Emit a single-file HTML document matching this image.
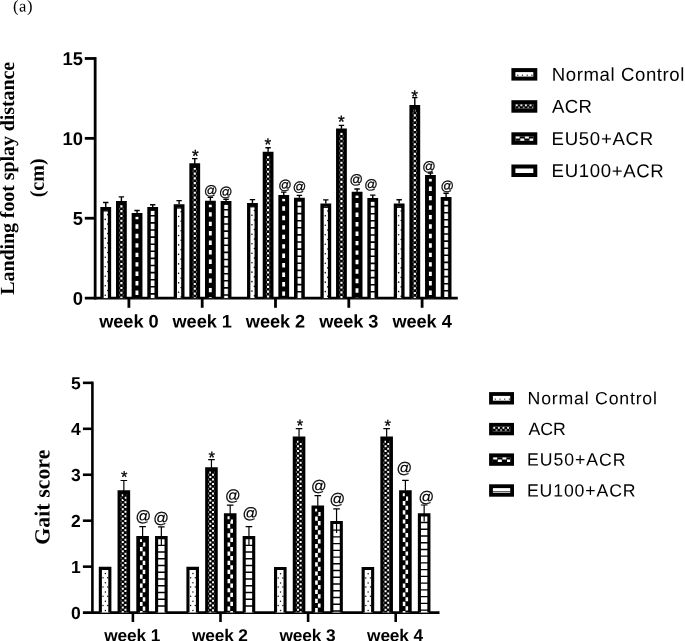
<!DOCTYPE html>
<html lang="en"><head><meta charset="utf-8"><title>Figure (a)</title>
<style>html,body{margin:0;padding:0;background:#fff}body{width:685px;height:641px;overflow:hidden}svg{display:block}</style>
</head><body>
<svg width="685" height="641" viewBox="0 0 685 641">
<rect width="685" height="641" fill="#fff"/>
<text x="13" y="11.4" font-family='"Liberation Serif", "Times New Roman", Times, serif' font-size="16.6" textLength="19.6" lengthAdjust="spacing" transform="rotate(0.03 13 11.4)">(a)</text>
<g stroke="#000" stroke-width="2.8" fill="none" stroke-linecap="butt">
<path d="M95.15 57.08V299.5"/>
<path d="M84.8 298.1H457.8"/>
<path d="M84.8 218.23H95.15"/>
<path d="M84.8 138.35H95.15"/>
<path d="M84.8 58.48H95.15"/>
<path d="M128.9 298.1V307.8"/>
<path d="M202.2 298.1V307.8"/>
<path d="M275.5 298.1V307.8"/>
<path d="M348.8 298.1V307.8"/>
<path d="M422.1 298.1V307.8"/>
</g>
<text x="82.9" y="304.7" font-family='"Liberation Sans", Arial, Helvetica, sans-serif' font-size="18.4" font-weight="bold" text-anchor="end" transform="rotate(0.03 82.9 304.7)">0</text>
<text x="82.9" y="224.83" font-family='"Liberation Sans", Arial, Helvetica, sans-serif' font-size="18.4" font-weight="bold" text-anchor="end" transform="rotate(0.03 82.9 224.83)">5</text>
<text x="82.9" y="144.95" font-family='"Liberation Sans", Arial, Helvetica, sans-serif' font-size="18.4" font-weight="bold" text-anchor="end" transform="rotate(0.03 82.9 144.95)">10</text>
<text x="82.9" y="65.08" font-family='"Liberation Sans", Arial, Helvetica, sans-serif' font-size="18.4" font-weight="bold" text-anchor="end" transform="rotate(0.03 82.9 65.08)">15</text>
<text x="128.9" y="327.5" font-family='"Liberation Sans", Arial, Helvetica, sans-serif' font-size="18.2" font-weight="bold" text-anchor="middle" textLength="59.3" lengthAdjust="spacing" transform="rotate(0.03 128.9 327.5)">week 0</text>
<text x="202.2" y="327.5" font-family='"Liberation Sans", Arial, Helvetica, sans-serif' font-size="18.2" font-weight="bold" text-anchor="middle" textLength="59.3" lengthAdjust="spacing" transform="rotate(0.03 202.2 327.5)">week 1</text>
<text x="275.5" y="327.5" font-family='"Liberation Sans", Arial, Helvetica, sans-serif' font-size="18.2" font-weight="bold" text-anchor="middle" textLength="59.3" lengthAdjust="spacing" transform="rotate(0.03 275.5 327.5)">week 2</text>
<text x="348.8" y="327.5" font-family='"Liberation Sans", Arial, Helvetica, sans-serif' font-size="18.2" font-weight="bold" text-anchor="middle" textLength="59.3" lengthAdjust="spacing" transform="rotate(0.03 348.8 327.5)">week 3</text>
<text x="422.1" y="327.5" font-family='"Liberation Sans", Arial, Helvetica, sans-serif' font-size="18.2" font-weight="bold" text-anchor="middle" textLength="59.3" lengthAdjust="spacing" transform="rotate(0.03 422.1 327.5)">week 4</text>
<g transform="translate(14.0 178.3) rotate(-90)"><text x="0" y="0" font-family='"Liberation Serif", "Times New Roman", Times, serif' font-size="20" font-weight="bold" text-anchor="middle" textLength="233" lengthAdjust="spacing" transform="rotate(0.03 0 0)">Landing foot splay distance</text></g>
<g transform="translate(43.7 177.9) rotate(-90)"><text x="0" y="0" font-family='"Liberation Serif", "Times New Roman", Times, serif' font-size="20" font-weight="bold" text-anchor="middle" transform="rotate(0.03 0 0)">(cm)</text></g>
<g transform="translate(100.35 298.1)"><rect x="1.65" y="-89.35" width="7.5" height="89.35" fill="#fff"/><g fill="#111"><circle cx="4.9" cy="-78.72" r="0.8"/><circle cx="4.9" cy="-69.24" r="0.8"/><circle cx="4.9" cy="-59.76" r="0.8"/><circle cx="4.9" cy="-50.28" r="0.8"/><circle cx="4.9" cy="-40.8" r="0.8"/><circle cx="4.9" cy="-31.32" r="0.8"/><circle cx="4.9" cy="-21.84" r="0.8"/><circle cx="4.9" cy="-12.36" r="0.8"/><circle cx="4.9" cy="-2.88" r="0.8"/><circle cx="7.4" cy="-83.46" r="0.8"/><circle cx="7.4" cy="-73.98" r="0.8"/><circle cx="7.4" cy="-64.5" r="0.8"/><circle cx="7.4" cy="-55.02" r="0.8"/><circle cx="7.4" cy="-45.54" r="0.8"/><circle cx="7.4" cy="-36.06" r="0.8"/><circle cx="7.4" cy="-26.58" r="0.8"/><circle cx="7.4" cy="-17.1" r="0.8"/><circle cx="7.4" cy="-7.62" r="0.8"/></g><path d="M1.65 0V-89.35H9.15V0" fill="none" stroke="#000" stroke-width="3.3"/><rect x="1.65" y="-87.9" width="7.5" height="1.3" fill="#000"/><path d="M5.4 -91V-95.6M2.7 -95.6H8.1" stroke="#000" stroke-width="1.4" fill="none"/></g>
<g transform="translate(116 298.1)"><rect x="1.65" y="-95.55" width="7.5" height="95.55" fill="#fff"/><rect x="1.65" y="-95.55" width="7.5" height="95.55" fill="#000"/><path fill="#7a7a7a" d="M1.93 -90.38h2.15v2.15h-2.15zM1.93 -85.58h2.15v2.15h-2.15zM1.93 -80.78h2.15v2.15h-2.15zM1.93 -75.98h2.15v2.15h-2.15zM1.93 -71.18h2.15v2.15h-2.15zM1.93 -66.38h2.15v2.15h-2.15zM1.93 -61.58h2.15v2.15h-2.15zM1.93 -56.78h2.15v2.15h-2.15zM1.93 -51.98h2.15v2.15h-2.15zM1.93 -47.18h2.15v2.15h-2.15zM1.93 -42.38h2.15v2.15h-2.15zM1.93 -37.58h2.15v2.15h-2.15zM1.93 -32.78h2.15v2.15h-2.15zM1.93 -27.98h2.15v2.15h-2.15zM1.93 -23.18h2.15v2.15h-2.15zM1.93 -18.38h2.15v2.15h-2.15zM1.93 -13.58h2.15v2.15h-2.15zM1.93 -8.78h2.15v2.15h-2.15zM1.93 -3.98h2.15v2.15h-2.15zM6.73 -90.38h2.15v2.15h-2.15zM6.73 -85.58h2.15v2.15h-2.15zM6.73 -80.78h2.15v2.15h-2.15zM6.73 -75.98h2.15v2.15h-2.15zM6.73 -71.18h2.15v2.15h-2.15zM6.73 -66.38h2.15v2.15h-2.15zM6.73 -61.58h2.15v2.15h-2.15zM6.73 -56.78h2.15v2.15h-2.15zM6.73 -51.98h2.15v2.15h-2.15zM6.73 -47.18h2.15v2.15h-2.15zM6.73 -42.38h2.15v2.15h-2.15zM6.73 -37.58h2.15v2.15h-2.15zM6.73 -32.78h2.15v2.15h-2.15zM6.73 -27.98h2.15v2.15h-2.15zM6.73 -23.18h2.15v2.15h-2.15zM6.73 -18.38h2.15v2.15h-2.15zM6.73 -13.58h2.15v2.15h-2.15zM6.73 -8.78h2.15v2.15h-2.15zM6.73 -3.98h2.15v2.15h-2.15z"/><path fill="#fff" d="M4.33 -92.78h2.15v2.15h-2.15zM4.33 -87.98h2.15v2.15h-2.15zM4.33 -83.18h2.15v2.15h-2.15zM4.33 -78.38h2.15v2.15h-2.15zM4.33 -73.58h2.15v2.15h-2.15zM4.33 -68.78h2.15v2.15h-2.15zM4.33 -63.98h2.15v2.15h-2.15zM4.33 -59.18h2.15v2.15h-2.15zM4.33 -54.38h2.15v2.15h-2.15zM4.33 -49.58h2.15v2.15h-2.15zM4.33 -44.78h2.15v2.15h-2.15zM4.33 -39.98h2.15v2.15h-2.15zM4.33 -35.18h2.15v2.15h-2.15zM4.33 -30.38h2.15v2.15h-2.15zM4.33 -25.58h2.15v2.15h-2.15zM4.33 -20.78h2.15v2.15h-2.15zM4.33 -15.98h2.15v2.15h-2.15zM4.33 -11.18h2.15v2.15h-2.15zM4.33 -6.38h2.15v2.15h-2.15zM4.33 -1.58h2.15v1.58h-2.15z"/><path d="M5.4 -97.2V-93.2" stroke="#000" stroke-width="1.4" fill="none"/><path d="M1.65 0V-95.55H9.15V0" fill="none" stroke="#000" stroke-width="3.3"/><rect x="1.65" y="-94.1" width="7.5" height="0.8" fill="#000"/><path d="M5.4 -97.2V-101.2M2.7 -101.2H8.1" stroke="#000" stroke-width="1.4" fill="none"/></g>
<g transform="translate(131.65 298.1)"><rect x="1.65" y="-83.55" width="7.5" height="83.55" fill="#fff"/><rect x="1.65" y="-83.55" width="7.5" height="83.55" fill="#000"/><path fill="#fff" d="M3.85 -83.26h2.9v4.4h-2.9zM3.85 -73.8h2.9v4.4h-2.9zM3.85 -64.34h2.9v4.4h-2.9zM3.85 -54.88h2.9v4.4h-2.9zM3.85 -45.42h2.9v4.4h-2.9zM3.85 -35.96h2.9v4.4h-2.9zM3.85 -26.5h2.9v4.4h-2.9zM3.85 -17.04h2.9v4.4h-2.9zM3.85 -7.58h2.9v4.4h-2.9z"/><path d="M5.4 -85.2V-82.8" stroke="#000" stroke-width="1.4" fill="none"/><path d="M1.65 0V-83.55H9.15V0" fill="none" stroke="#000" stroke-width="3.3"/><rect x="1.65" y="-82.1" width="7.5" height="0.8" fill="#000"/><path d="M5.4 -85.2V-87.6M2.7 -87.6H8.1" stroke="#000" stroke-width="1.4" fill="none"/></g>
<g transform="translate(147.3 298.1)"><rect x="1.65" y="-89.35" width="7.5" height="89.35" fill="#fff"/><path fill="#000" d="M1.65 -83.1h7.5v1.6h-7.5zM1.65 -76h7.5v1.6h-7.5zM1.65 -68.9h7.5v1.6h-7.5zM1.65 -61.8h7.5v1.6h-7.5zM1.65 -54.7h7.5v1.6h-7.5zM1.65 -47.6h7.5v1.6h-7.5zM1.65 -40.5h7.5v1.6h-7.5zM1.65 -33.4h7.5v1.6h-7.5zM1.65 -26.3h7.5v1.6h-7.5zM1.65 -19.2h7.5v1.6h-7.5zM1.65 -12.1h7.5v1.6h-7.5zM1.65 -5h7.5v1.6h-7.5z"/><path fill="#000" d="M3.2 -89.35h0.4V0h-0.4zM7.2 -89.35h0.4V0h-0.4z"/><path d="M5.4 -91V-88.6" stroke="#000" stroke-width="1.4" fill="none"/><path d="M1.65 0V-89.35H9.15V0" fill="none" stroke="#000" stroke-width="3.3"/><rect x="1.65" y="-87.9" width="7.5" height="0.8" fill="#000"/><path d="M5.4 -91V-93.4M2.7 -93.4H8.1" stroke="#000" stroke-width="1.4" fill="none"/></g>
<g transform="translate(173.7 298.1)"><rect x="1.65" y="-92.25" width="7.5" height="92.25" fill="#fff"/><g fill="#111"><circle cx="4.9" cy="-81.62" r="0.8"/><circle cx="4.9" cy="-72.14" r="0.8"/><circle cx="4.9" cy="-62.66" r="0.8"/><circle cx="4.9" cy="-53.18" r="0.8"/><circle cx="4.9" cy="-43.7" r="0.8"/><circle cx="4.9" cy="-34.22" r="0.8"/><circle cx="4.9" cy="-24.74" r="0.8"/><circle cx="4.9" cy="-15.26" r="0.8"/><circle cx="4.9" cy="-5.78" r="0.8"/><circle cx="7.4" cy="-86.36" r="0.8"/><circle cx="7.4" cy="-76.88" r="0.8"/><circle cx="7.4" cy="-67.4" r="0.8"/><circle cx="7.4" cy="-57.92" r="0.8"/><circle cx="7.4" cy="-48.44" r="0.8"/><circle cx="7.4" cy="-38.96" r="0.8"/><circle cx="7.4" cy="-29.48" r="0.8"/><circle cx="7.4" cy="-20" r="0.8"/><circle cx="7.4" cy="-10.52" r="0.8"/><circle cx="7.4" cy="-1.04" r="0.8"/></g><path d="M1.65 0V-92.25H9.15V0" fill="none" stroke="#000" stroke-width="3.3"/><rect x="1.65" y="-90.8" width="7.5" height="1.3" fill="#000"/><path d="M5.4 -93.9V-97.5M2.7 -97.5H8.1" stroke="#000" stroke-width="1.4" fill="none"/></g>
<g transform="translate(189.35 298.1)"><rect x="1.65" y="-133.15" width="7.5" height="133.15" fill="#fff"/><rect x="1.65" y="-133.15" width="7.5" height="133.15" fill="#000"/><path fill="#7a7a7a" d="M1.93 -127.98h2.15v2.15h-2.15zM1.93 -123.18h2.15v2.15h-2.15zM1.93 -118.38h2.15v2.15h-2.15zM1.93 -113.58h2.15v2.15h-2.15zM1.93 -108.78h2.15v2.15h-2.15zM1.93 -103.98h2.15v2.15h-2.15zM1.93 -99.18h2.15v2.15h-2.15zM1.93 -94.38h2.15v2.15h-2.15zM1.93 -89.58h2.15v2.15h-2.15zM1.93 -84.78h2.15v2.15h-2.15zM1.93 -79.98h2.15v2.15h-2.15zM1.93 -75.18h2.15v2.15h-2.15zM1.93 -70.38h2.15v2.15h-2.15zM1.93 -65.58h2.15v2.15h-2.15zM1.93 -60.78h2.15v2.15h-2.15zM1.93 -55.98h2.15v2.15h-2.15zM1.93 -51.18h2.15v2.15h-2.15zM1.93 -46.38h2.15v2.15h-2.15zM1.93 -41.58h2.15v2.15h-2.15zM1.93 -36.78h2.15v2.15h-2.15zM1.93 -31.98h2.15v2.15h-2.15zM1.93 -27.18h2.15v2.15h-2.15zM1.93 -22.38h2.15v2.15h-2.15zM1.93 -17.58h2.15v2.15h-2.15zM1.93 -12.78h2.15v2.15h-2.15zM1.93 -7.98h2.15v2.15h-2.15zM1.93 -3.18h2.15v2.15h-2.15zM6.73 -127.98h2.15v2.15h-2.15zM6.73 -123.18h2.15v2.15h-2.15zM6.73 -118.38h2.15v2.15h-2.15zM6.73 -113.58h2.15v2.15h-2.15zM6.73 -108.78h2.15v2.15h-2.15zM6.73 -103.98h2.15v2.15h-2.15zM6.73 -99.18h2.15v2.15h-2.15zM6.73 -94.38h2.15v2.15h-2.15zM6.73 -89.58h2.15v2.15h-2.15zM6.73 -84.78h2.15v2.15h-2.15zM6.73 -79.98h2.15v2.15h-2.15zM6.73 -75.18h2.15v2.15h-2.15zM6.73 -70.38h2.15v2.15h-2.15zM6.73 -65.58h2.15v2.15h-2.15zM6.73 -60.78h2.15v2.15h-2.15zM6.73 -55.98h2.15v2.15h-2.15zM6.73 -51.18h2.15v2.15h-2.15zM6.73 -46.38h2.15v2.15h-2.15zM6.73 -41.58h2.15v2.15h-2.15zM6.73 -36.78h2.15v2.15h-2.15zM6.73 -31.98h2.15v2.15h-2.15zM6.73 -27.18h2.15v2.15h-2.15zM6.73 -22.38h2.15v2.15h-2.15zM6.73 -17.58h2.15v2.15h-2.15zM6.73 -12.78h2.15v2.15h-2.15zM6.73 -7.98h2.15v2.15h-2.15zM6.73 -3.18h2.15v2.15h-2.15z"/><path fill="#fff" d="M4.33 -130.38h2.15v2.15h-2.15zM4.33 -125.58h2.15v2.15h-2.15zM4.33 -120.78h2.15v2.15h-2.15zM4.33 -115.98h2.15v2.15h-2.15zM4.33 -111.18h2.15v2.15h-2.15zM4.33 -106.38h2.15v2.15h-2.15zM4.33 -101.58h2.15v2.15h-2.15zM4.33 -96.78h2.15v2.15h-2.15zM4.33 -91.98h2.15v2.15h-2.15zM4.33 -87.18h2.15v2.15h-2.15zM4.33 -82.38h2.15v2.15h-2.15zM4.33 -77.58h2.15v2.15h-2.15zM4.33 -72.78h2.15v2.15h-2.15zM4.33 -67.98h2.15v2.15h-2.15zM4.33 -63.18h2.15v2.15h-2.15zM4.33 -58.38h2.15v2.15h-2.15zM4.33 -53.58h2.15v2.15h-2.15zM4.33 -48.78h2.15v2.15h-2.15zM4.33 -43.98h2.15v2.15h-2.15zM4.33 -39.18h2.15v2.15h-2.15zM4.33 -34.38h2.15v2.15h-2.15zM4.33 -29.58h2.15v2.15h-2.15zM4.33 -24.78h2.15v2.15h-2.15zM4.33 -19.98h2.15v2.15h-2.15zM4.33 -15.18h2.15v2.15h-2.15zM4.33 -10.38h2.15v2.15h-2.15zM4.33 -5.58h2.15v2.15h-2.15zM4.33 -0.78h2.15v0.78h-2.15z"/><path d="M5.4 -134.8V-130.1" stroke="#000" stroke-width="1.4" fill="none"/><path d="M1.65 0V-133.15H9.15V0" fill="none" stroke="#000" stroke-width="3.3"/><rect x="1.65" y="-131.7" width="7.5" height="0.8" fill="#000"/><path d="M5.4 -134.8V-139.5M2.7 -139.5H8.1" stroke="#000" stroke-width="1.4" fill="none"/></g>
<g transform="translate(205 298.1)"><rect x="1.65" y="-95.65" width="7.5" height="95.65" fill="#fff"/><rect x="1.65" y="-95.65" width="7.5" height="95.65" fill="#000"/><path fill="#fff" d="M3.85 -95.36h2.9v4.4h-2.9zM3.85 -85.9h2.9v4.4h-2.9zM3.85 -76.44h2.9v4.4h-2.9zM3.85 -66.98h2.9v4.4h-2.9zM3.85 -57.52h2.9v4.4h-2.9zM3.85 -48.06h2.9v4.4h-2.9zM3.85 -38.6h2.9v4.4h-2.9zM3.85 -29.14h2.9v4.4h-2.9zM3.85 -19.68h2.9v4.4h-2.9zM3.85 -10.22h2.9v4.4h-2.9zM3.85 -0.76h2.9v0.76h-2.9z"/><path d="M5.4 -97.3V-93.9" stroke="#000" stroke-width="1.4" fill="none"/><path d="M1.65 0V-95.65H9.15V0" fill="none" stroke="#000" stroke-width="3.3"/><rect x="1.65" y="-94.2" width="7.5" height="0.8" fill="#000"/><path d="M5.4 -97.3V-100.7M2.7 -100.7H8.1" stroke="#000" stroke-width="1.4" fill="none"/></g>
<g transform="translate(220.65 298.1)"><rect x="1.65" y="-95.35" width="7.5" height="95.35" fill="#fff"/><path fill="#000" d="M1.65 -89.1h7.5v1.6h-7.5zM1.65 -82h7.5v1.6h-7.5zM1.65 -74.9h7.5v1.6h-7.5zM1.65 -67.8h7.5v1.6h-7.5zM1.65 -60.7h7.5v1.6h-7.5zM1.65 -53.6h7.5v1.6h-7.5zM1.65 -46.5h7.5v1.6h-7.5zM1.65 -39.4h7.5v1.6h-7.5zM1.65 -32.3h7.5v1.6h-7.5zM1.65 -25.2h7.5v1.6h-7.5zM1.65 -18.1h7.5v1.6h-7.5zM1.65 -11h7.5v1.6h-7.5zM1.65 -3.9h7.5v1.6h-7.5z"/><path fill="#000" d="M3.2 -95.35h0.4V0h-0.4zM7.2 -95.35h0.4V0h-0.4z"/><path d="M5.4 -97V-95.1" stroke="#000" stroke-width="1.4" fill="none"/><path d="M1.65 0V-95.35H9.15V0" fill="none" stroke="#000" stroke-width="3.3"/><rect x="1.65" y="-93.9" width="7.5" height="0.8" fill="#000"/><path d="M5.4 -97V-98.9M2.7 -98.9H8.1" stroke="#000" stroke-width="1.4" fill="none"/></g>
<g transform="translate(247.05 298.1)"><rect x="1.65" y="-93.45" width="7.5" height="93.45" fill="#fff"/><g fill="#111"><circle cx="4.9" cy="-82.82" r="0.8"/><circle cx="4.9" cy="-73.34" r="0.8"/><circle cx="4.9" cy="-63.86" r="0.8"/><circle cx="4.9" cy="-54.38" r="0.8"/><circle cx="4.9" cy="-44.9" r="0.8"/><circle cx="4.9" cy="-35.42" r="0.8"/><circle cx="4.9" cy="-25.94" r="0.8"/><circle cx="4.9" cy="-16.46" r="0.8"/><circle cx="4.9" cy="-6.98" r="0.8"/><circle cx="7.4" cy="-87.56" r="0.8"/><circle cx="7.4" cy="-78.08" r="0.8"/><circle cx="7.4" cy="-68.6" r="0.8"/><circle cx="7.4" cy="-59.12" r="0.8"/><circle cx="7.4" cy="-49.64" r="0.8"/><circle cx="7.4" cy="-40.16" r="0.8"/><circle cx="7.4" cy="-30.68" r="0.8"/><circle cx="7.4" cy="-21.2" r="0.8"/><circle cx="7.4" cy="-11.72" r="0.8"/><circle cx="7.4" cy="-2.24" r="0.8"/></g><path d="M1.65 0V-93.45H9.15V0" fill="none" stroke="#000" stroke-width="3.3"/><rect x="1.65" y="-92" width="7.5" height="1.3" fill="#000"/><path d="M5.4 -95.1V-98.5M2.7 -98.5H8.1" stroke="#000" stroke-width="1.4" fill="none"/></g>
<g transform="translate(262.7 298.1)"><rect x="1.65" y="-144.65" width="7.5" height="144.65" fill="#fff"/><rect x="1.65" y="-144.65" width="7.5" height="144.65" fill="#000"/><path fill="#7a7a7a" d="M1.93 -139.47h2.15v2.15h-2.15zM1.93 -134.67h2.15v2.15h-2.15zM1.93 -129.87h2.15v2.15h-2.15zM1.93 -125.07h2.15v2.15h-2.15zM1.93 -120.27h2.15v2.15h-2.15zM1.93 -115.47h2.15v2.15h-2.15zM1.93 -110.67h2.15v2.15h-2.15zM1.93 -105.88h2.15v2.15h-2.15zM1.93 -101.08h2.15v2.15h-2.15zM1.93 -96.28h2.15v2.15h-2.15zM1.93 -91.48h2.15v2.15h-2.15zM1.93 -86.68h2.15v2.15h-2.15zM1.93 -81.88h2.15v2.15h-2.15zM1.93 -77.08h2.15v2.15h-2.15zM1.93 -72.28h2.15v2.15h-2.15zM1.93 -67.48h2.15v2.15h-2.15zM1.93 -62.68h2.15v2.15h-2.15zM1.93 -57.88h2.15v2.15h-2.15zM1.93 -53.08h2.15v2.15h-2.15zM1.93 -48.28h2.15v2.15h-2.15zM1.93 -43.48h2.15v2.15h-2.15zM1.93 -38.68h2.15v2.15h-2.15zM1.93 -33.88h2.15v2.15h-2.15zM1.93 -29.08h2.15v2.15h-2.15zM1.93 -24.28h2.15v2.15h-2.15zM1.93 -19.48h2.15v2.15h-2.15zM1.93 -14.68h2.15v2.15h-2.15zM1.93 -9.88h2.15v2.15h-2.15zM1.93 -5.08h2.15v2.15h-2.15zM1.93 -0.28h2.15v0.28h-2.15zM6.73 -139.47h2.15v2.15h-2.15zM6.73 -134.67h2.15v2.15h-2.15zM6.73 -129.87h2.15v2.15h-2.15zM6.73 -125.07h2.15v2.15h-2.15zM6.73 -120.27h2.15v2.15h-2.15zM6.73 -115.47h2.15v2.15h-2.15zM6.73 -110.67h2.15v2.15h-2.15zM6.73 -105.88h2.15v2.15h-2.15zM6.73 -101.08h2.15v2.15h-2.15zM6.73 -96.28h2.15v2.15h-2.15zM6.73 -91.48h2.15v2.15h-2.15zM6.73 -86.68h2.15v2.15h-2.15zM6.73 -81.88h2.15v2.15h-2.15zM6.73 -77.08h2.15v2.15h-2.15zM6.73 -72.28h2.15v2.15h-2.15zM6.73 -67.48h2.15v2.15h-2.15zM6.73 -62.68h2.15v2.15h-2.15zM6.73 -57.88h2.15v2.15h-2.15zM6.73 -53.08h2.15v2.15h-2.15zM6.73 -48.28h2.15v2.15h-2.15zM6.73 -43.48h2.15v2.15h-2.15zM6.73 -38.68h2.15v2.15h-2.15zM6.73 -33.88h2.15v2.15h-2.15zM6.73 -29.08h2.15v2.15h-2.15zM6.73 -24.28h2.15v2.15h-2.15zM6.73 -19.48h2.15v2.15h-2.15zM6.73 -14.68h2.15v2.15h-2.15zM6.73 -9.88h2.15v2.15h-2.15zM6.73 -5.08h2.15v2.15h-2.15zM6.73 -0.28h2.15v0.28h-2.15z"/><path fill="#fff" d="M4.33 -141.88h2.15v2.15h-2.15zM4.33 -137.07h2.15v2.15h-2.15zM4.33 -132.27h2.15v2.15h-2.15zM4.33 -127.47h2.15v2.15h-2.15zM4.33 -122.67h2.15v2.15h-2.15zM4.33 -117.88h2.15v2.15h-2.15zM4.33 -113.08h2.15v2.15h-2.15zM4.33 -108.28h2.15v2.15h-2.15zM4.33 -103.48h2.15v2.15h-2.15zM4.33 -98.68h2.15v2.15h-2.15zM4.33 -93.88h2.15v2.15h-2.15zM4.33 -89.08h2.15v2.15h-2.15zM4.33 -84.28h2.15v2.15h-2.15zM4.33 -79.48h2.15v2.15h-2.15zM4.33 -74.68h2.15v2.15h-2.15zM4.33 -69.88h2.15v2.15h-2.15zM4.33 -65.08h2.15v2.15h-2.15zM4.33 -60.28h2.15v2.15h-2.15zM4.33 -55.48h2.15v2.15h-2.15zM4.33 -50.68h2.15v2.15h-2.15zM4.33 -45.88h2.15v2.15h-2.15zM4.33 -41.08h2.15v2.15h-2.15zM4.33 -36.28h2.15v2.15h-2.15zM4.33 -31.48h2.15v2.15h-2.15zM4.33 -26.68h2.15v2.15h-2.15zM4.33 -21.88h2.15v2.15h-2.15zM4.33 -17.08h2.15v2.15h-2.15zM4.33 -12.28h2.15v2.15h-2.15zM4.33 -7.48h2.15v2.15h-2.15zM4.33 -2.68h2.15v2.15h-2.15z"/><path d="M5.4 -146.3V-142.2" stroke="#000" stroke-width="1.4" fill="none"/><path d="M1.65 0V-144.65H9.15V0" fill="none" stroke="#000" stroke-width="3.3"/><rect x="1.65" y="-143.2" width="7.5" height="0.8" fill="#000"/><path d="M5.4 -146.3V-150.4M2.7 -150.4H8.1" stroke="#000" stroke-width="1.4" fill="none"/></g>
<g transform="translate(278.35 298.1)"><rect x="1.65" y="-101.55" width="7.5" height="101.55" fill="#fff"/><rect x="1.65" y="-101.55" width="7.5" height="101.55" fill="#000"/><path fill="#fff" d="M3.85 -101.26h2.9v4.4h-2.9zM3.85 -91.8h2.9v4.4h-2.9zM3.85 -82.34h2.9v4.4h-2.9zM3.85 -72.88h2.9v4.4h-2.9zM3.85 -63.42h2.9v4.4h-2.9zM3.85 -53.96h2.9v4.4h-2.9zM3.85 -44.5h2.9v4.4h-2.9zM3.85 -35.04h2.9v4.4h-2.9zM3.85 -25.58h2.9v4.4h-2.9zM3.85 -16.12h2.9v4.4h-2.9zM3.85 -6.66h2.9v4.4h-2.9z"/><path d="M5.4 -103.2V-100.4" stroke="#000" stroke-width="1.4" fill="none"/><path d="M1.65 0V-101.55H9.15V0" fill="none" stroke="#000" stroke-width="3.3"/><rect x="1.65" y="-100.1" width="7.5" height="0.8" fill="#000"/><path d="M5.4 -103.2V-106M2.7 -106H8.1" stroke="#000" stroke-width="1.4" fill="none"/></g>
<g transform="translate(294 298.1)"><rect x="1.65" y="-98.65" width="7.5" height="98.65" fill="#fff"/><path fill="#000" d="M1.65 -92.4h7.5v1.6h-7.5zM1.65 -85.3h7.5v1.6h-7.5zM1.65 -78.2h7.5v1.6h-7.5zM1.65 -71.1h7.5v1.6h-7.5zM1.65 -64h7.5v1.6h-7.5zM1.65 -56.9h7.5v1.6h-7.5zM1.65 -49.8h7.5v1.6h-7.5zM1.65 -42.7h7.5v1.6h-7.5zM1.65 -35.6h7.5v1.6h-7.5zM1.65 -28.5h7.5v1.6h-7.5zM1.65 -21.4h7.5v1.6h-7.5zM1.65 -14.3h7.5v1.6h-7.5zM1.65 -7.2h7.5v1.6h-7.5z"/><path fill="#000" d="M3.2 -98.65h0.4V0h-0.4zM7.2 -98.65h0.4V0h-0.4z"/><path d="M5.4 -100.3V-97.9" stroke="#000" stroke-width="1.4" fill="none"/><path d="M1.65 0V-98.65H9.15V0" fill="none" stroke="#000" stroke-width="3.3"/><rect x="1.65" y="-97.2" width="7.5" height="0.8" fill="#000"/><path d="M5.4 -100.3V-102.7M2.7 -102.7H8.1" stroke="#000" stroke-width="1.4" fill="none"/></g>
<g transform="translate(320.4 298.1)"><rect x="1.65" y="-92.95" width="7.5" height="92.95" fill="#fff"/><g fill="#111"><circle cx="4.9" cy="-82.32" r="0.8"/><circle cx="4.9" cy="-72.84" r="0.8"/><circle cx="4.9" cy="-63.36" r="0.8"/><circle cx="4.9" cy="-53.88" r="0.8"/><circle cx="4.9" cy="-44.4" r="0.8"/><circle cx="4.9" cy="-34.92" r="0.8"/><circle cx="4.9" cy="-25.44" r="0.8"/><circle cx="4.9" cy="-15.96" r="0.8"/><circle cx="4.9" cy="-6.48" r="0.8"/><circle cx="7.4" cy="-87.06" r="0.8"/><circle cx="7.4" cy="-77.58" r="0.8"/><circle cx="7.4" cy="-68.1" r="0.8"/><circle cx="7.4" cy="-58.62" r="0.8"/><circle cx="7.4" cy="-49.14" r="0.8"/><circle cx="7.4" cy="-39.66" r="0.8"/><circle cx="7.4" cy="-30.18" r="0.8"/><circle cx="7.4" cy="-20.7" r="0.8"/><circle cx="7.4" cy="-11.22" r="0.8"/><circle cx="7.4" cy="-1.74" r="0.8"/></g><path d="M1.65 0V-92.95H9.15V0" fill="none" stroke="#000" stroke-width="3.3"/><rect x="1.65" y="-91.5" width="7.5" height="1.3" fill="#000"/><path d="M5.4 -94.6V-98.2M2.7 -98.2H8.1" stroke="#000" stroke-width="1.4" fill="none"/></g>
<g transform="translate(336.05 298.1)"><rect x="1.65" y="-168.05" width="7.5" height="168.05" fill="#fff"/><rect x="1.65" y="-168.05" width="7.5" height="168.05" fill="#000"/><path fill="#7a7a7a" d="M1.93 -162.88h2.15v2.15h-2.15zM1.93 -158.07h2.15v2.15h-2.15zM1.93 -153.27h2.15v2.15h-2.15zM1.93 -148.47h2.15v2.15h-2.15zM1.93 -143.67h2.15v2.15h-2.15zM1.93 -138.87h2.15v2.15h-2.15zM1.93 -134.07h2.15v2.15h-2.15zM1.93 -129.27h2.15v2.15h-2.15zM1.93 -124.47h2.15v2.15h-2.15zM1.93 -119.67h2.15v2.15h-2.15zM1.93 -114.87h2.15v2.15h-2.15zM1.93 -110.07h2.15v2.15h-2.15zM1.93 -105.27h2.15v2.15h-2.15zM1.93 -100.47h2.15v2.15h-2.15zM1.93 -95.67h2.15v2.15h-2.15zM1.93 -90.87h2.15v2.15h-2.15zM1.93 -86.07h2.15v2.15h-2.15zM1.93 -81.27h2.15v2.15h-2.15zM1.93 -76.47h2.15v2.15h-2.15zM1.93 -71.67h2.15v2.15h-2.15zM1.93 -66.87h2.15v2.15h-2.15zM1.93 -62.07h2.15v2.15h-2.15zM1.93 -57.27h2.15v2.15h-2.15zM1.93 -52.47h2.15v2.15h-2.15zM1.93 -47.67h2.15v2.15h-2.15zM1.93 -42.87h2.15v2.15h-2.15zM1.93 -38.07h2.15v2.15h-2.15zM1.93 -33.27h2.15v2.15h-2.15zM1.93 -28.47h2.15v2.15h-2.15zM1.93 -23.67h2.15v2.15h-2.15zM1.93 -18.87h2.15v2.15h-2.15zM1.93 -14.07h2.15v2.15h-2.15zM1.93 -9.27h2.15v2.15h-2.15zM1.93 -4.47h2.15v2.15h-2.15zM6.73 -162.88h2.15v2.15h-2.15zM6.73 -158.07h2.15v2.15h-2.15zM6.73 -153.27h2.15v2.15h-2.15zM6.73 -148.47h2.15v2.15h-2.15zM6.73 -143.67h2.15v2.15h-2.15zM6.73 -138.87h2.15v2.15h-2.15zM6.73 -134.07h2.15v2.15h-2.15zM6.73 -129.27h2.15v2.15h-2.15zM6.73 -124.47h2.15v2.15h-2.15zM6.73 -119.67h2.15v2.15h-2.15zM6.73 -114.87h2.15v2.15h-2.15zM6.73 -110.07h2.15v2.15h-2.15zM6.73 -105.27h2.15v2.15h-2.15zM6.73 -100.47h2.15v2.15h-2.15zM6.73 -95.67h2.15v2.15h-2.15zM6.73 -90.87h2.15v2.15h-2.15zM6.73 -86.07h2.15v2.15h-2.15zM6.73 -81.27h2.15v2.15h-2.15zM6.73 -76.47h2.15v2.15h-2.15zM6.73 -71.67h2.15v2.15h-2.15zM6.73 -66.87h2.15v2.15h-2.15zM6.73 -62.07h2.15v2.15h-2.15zM6.73 -57.27h2.15v2.15h-2.15zM6.73 -52.47h2.15v2.15h-2.15zM6.73 -47.67h2.15v2.15h-2.15zM6.73 -42.87h2.15v2.15h-2.15zM6.73 -38.07h2.15v2.15h-2.15zM6.73 -33.27h2.15v2.15h-2.15zM6.73 -28.47h2.15v2.15h-2.15zM6.73 -23.67h2.15v2.15h-2.15zM6.73 -18.87h2.15v2.15h-2.15zM6.73 -14.07h2.15v2.15h-2.15zM6.73 -9.27h2.15v2.15h-2.15zM6.73 -4.47h2.15v2.15h-2.15z"/><path fill="#fff" d="M4.33 -165.28h2.15v2.15h-2.15zM4.33 -160.47h2.15v2.15h-2.15zM4.33 -155.67h2.15v2.15h-2.15zM4.33 -150.87h2.15v2.15h-2.15zM4.33 -146.07h2.15v2.15h-2.15zM4.33 -141.27h2.15v2.15h-2.15zM4.33 -136.47h2.15v2.15h-2.15zM4.33 -131.67h2.15v2.15h-2.15zM4.33 -126.87h2.15v2.15h-2.15zM4.33 -122.07h2.15v2.15h-2.15zM4.33 -117.27h2.15v2.15h-2.15zM4.33 -112.47h2.15v2.15h-2.15zM4.33 -107.67h2.15v2.15h-2.15zM4.33 -102.87h2.15v2.15h-2.15zM4.33 -98.07h2.15v2.15h-2.15zM4.33 -93.27h2.15v2.15h-2.15zM4.33 -88.47h2.15v2.15h-2.15zM4.33 -83.67h2.15v2.15h-2.15zM4.33 -78.87h2.15v2.15h-2.15zM4.33 -74.07h2.15v2.15h-2.15zM4.33 -69.27h2.15v2.15h-2.15zM4.33 -64.47h2.15v2.15h-2.15zM4.33 -59.67h2.15v2.15h-2.15zM4.33 -54.87h2.15v2.15h-2.15zM4.33 -50.07h2.15v2.15h-2.15zM4.33 -45.27h2.15v2.15h-2.15zM4.33 -40.47h2.15v2.15h-2.15zM4.33 -35.67h2.15v2.15h-2.15zM4.33 -30.87h2.15v2.15h-2.15zM4.33 -26.07h2.15v2.15h-2.15zM4.33 -21.27h2.15v2.15h-2.15zM4.33 -16.47h2.15v2.15h-2.15zM4.33 -11.67h2.15v2.15h-2.15zM4.33 -6.87h2.15v2.15h-2.15zM4.33 -2.07h2.15v2.07h-2.15z"/><path d="M5.4 -169.7V-166.7" stroke="#000" stroke-width="1.4" fill="none"/><path d="M1.65 0V-168.05H9.15V0" fill="none" stroke="#000" stroke-width="3.3"/><rect x="1.65" y="-166.6" width="7.5" height="0.8" fill="#000"/><path d="M5.4 -169.7V-172.7M2.7 -172.7H8.1" stroke="#000" stroke-width="1.4" fill="none"/></g>
<g transform="translate(351.7 298.1)"><rect x="1.65" y="-104.75" width="7.5" height="104.75" fill="#fff"/><rect x="1.65" y="-104.75" width="7.5" height="104.75" fill="#000"/><path fill="#fff" d="M3.85 -104.46h2.9v4.4h-2.9zM3.85 -95h2.9v4.4h-2.9zM3.85 -85.54h2.9v4.4h-2.9zM3.85 -76.08h2.9v4.4h-2.9zM3.85 -66.62h2.9v4.4h-2.9zM3.85 -57.16h2.9v4.4h-2.9zM3.85 -47.7h2.9v4.4h-2.9zM3.85 -38.24h2.9v4.4h-2.9zM3.85 -28.78h2.9v4.4h-2.9zM3.85 -19.32h2.9v4.4h-2.9zM3.85 -9.86h2.9v4.4h-2.9zM3.85 -0.4h2.9v0.4h-2.9z"/><path d="M5.4 -106.4V-103.7" stroke="#000" stroke-width="1.4" fill="none"/><path d="M1.65 0V-104.75H9.15V0" fill="none" stroke="#000" stroke-width="3.3"/><rect x="1.65" y="-103.3" width="7.5" height="0.8" fill="#000"/><path d="M5.4 -106.4V-109.1M2.7 -109.1H8.1" stroke="#000" stroke-width="1.4" fill="none"/></g>
<g transform="translate(367.35 298.1)"><rect x="1.65" y="-98.55" width="7.5" height="98.55" fill="#fff"/><path fill="#000" d="M1.65 -92.3h7.5v1.6h-7.5zM1.65 -85.2h7.5v1.6h-7.5zM1.65 -78.1h7.5v1.6h-7.5zM1.65 -71h7.5v1.6h-7.5zM1.65 -63.9h7.5v1.6h-7.5zM1.65 -56.8h7.5v1.6h-7.5zM1.65 -49.7h7.5v1.6h-7.5zM1.65 -42.6h7.5v1.6h-7.5zM1.65 -35.5h7.5v1.6h-7.5zM1.65 -28.4h7.5v1.6h-7.5zM1.65 -21.3h7.5v1.6h-7.5zM1.65 -14.2h7.5v1.6h-7.5zM1.65 -7.1h7.5v1.6h-7.5z"/><path fill="#000" d="M3.2 -98.55h0.4V0h-0.4zM7.2 -98.55h0.4V0h-0.4z"/><path d="M5.4 -100.2V-97.4" stroke="#000" stroke-width="1.4" fill="none"/><path d="M1.65 0V-98.55H9.15V0" fill="none" stroke="#000" stroke-width="3.3"/><rect x="1.65" y="-97.1" width="7.5" height="0.8" fill="#000"/><path d="M5.4 -100.2V-103M2.7 -103H8.1" stroke="#000" stroke-width="1.4" fill="none"/></g>
<g transform="translate(393.75 298.1)"><rect x="1.65" y="-92.95" width="7.5" height="92.95" fill="#fff"/><g fill="#111"><circle cx="4.9" cy="-82.32" r="0.8"/><circle cx="4.9" cy="-72.84" r="0.8"/><circle cx="4.9" cy="-63.36" r="0.8"/><circle cx="4.9" cy="-53.88" r="0.8"/><circle cx="4.9" cy="-44.4" r="0.8"/><circle cx="4.9" cy="-34.92" r="0.8"/><circle cx="4.9" cy="-25.44" r="0.8"/><circle cx="4.9" cy="-15.96" r="0.8"/><circle cx="4.9" cy="-6.48" r="0.8"/><circle cx="7.4" cy="-87.06" r="0.8"/><circle cx="7.4" cy="-77.58" r="0.8"/><circle cx="7.4" cy="-68.1" r="0.8"/><circle cx="7.4" cy="-58.62" r="0.8"/><circle cx="7.4" cy="-49.14" r="0.8"/><circle cx="7.4" cy="-39.66" r="0.8"/><circle cx="7.4" cy="-30.18" r="0.8"/><circle cx="7.4" cy="-20.7" r="0.8"/><circle cx="7.4" cy="-11.22" r="0.8"/><circle cx="7.4" cy="-1.74" r="0.8"/></g><path d="M1.65 0V-92.95H9.15V0" fill="none" stroke="#000" stroke-width="3.3"/><rect x="1.65" y="-91.5" width="7.5" height="1.3" fill="#000"/><path d="M5.4 -94.6V-98.4M2.7 -98.4H8.1" stroke="#000" stroke-width="1.4" fill="none"/></g>
<g transform="translate(409.4 298.1)"><rect x="1.65" y="-191.35" width="7.5" height="191.35" fill="#fff"/><rect x="1.65" y="-191.35" width="7.5" height="191.35" fill="#000"/><path fill="#7a7a7a" d="M1.93 -186.18h2.15v2.15h-2.15zM1.93 -181.38h2.15v2.15h-2.15zM1.93 -176.57h2.15v2.15h-2.15zM1.93 -171.77h2.15v2.15h-2.15zM1.93 -166.97h2.15v2.15h-2.15zM1.93 -162.17h2.15v2.15h-2.15zM1.93 -157.37h2.15v2.15h-2.15zM1.93 -152.57h2.15v2.15h-2.15zM1.93 -147.77h2.15v2.15h-2.15zM1.93 -142.97h2.15v2.15h-2.15zM1.93 -138.17h2.15v2.15h-2.15zM1.93 -133.37h2.15v2.15h-2.15zM1.93 -128.57h2.15v2.15h-2.15zM1.93 -123.77h2.15v2.15h-2.15zM1.93 -118.97h2.15v2.15h-2.15zM1.93 -114.17h2.15v2.15h-2.15zM1.93 -109.37h2.15v2.15h-2.15zM1.93 -104.57h2.15v2.15h-2.15zM1.93 -99.77h2.15v2.15h-2.15zM1.93 -94.97h2.15v2.15h-2.15zM1.93 -90.17h2.15v2.15h-2.15zM1.93 -85.37h2.15v2.15h-2.15zM1.93 -80.57h2.15v2.15h-2.15zM1.93 -75.77h2.15v2.15h-2.15zM1.93 -70.97h2.15v2.15h-2.15zM1.93 -66.17h2.15v2.15h-2.15zM1.93 -61.37h2.15v2.15h-2.15zM1.93 -56.57h2.15v2.15h-2.15zM1.93 -51.77h2.15v2.15h-2.15zM1.93 -46.97h2.15v2.15h-2.15zM1.93 -42.17h2.15v2.15h-2.15zM1.93 -37.37h2.15v2.15h-2.15zM1.93 -32.57h2.15v2.15h-2.15zM1.93 -27.77h2.15v2.15h-2.15zM1.93 -22.97h2.15v2.15h-2.15zM1.93 -18.17h2.15v2.15h-2.15zM1.93 -13.37h2.15v2.15h-2.15zM1.93 -8.57h2.15v2.15h-2.15zM1.93 -3.77h2.15v2.15h-2.15zM6.73 -186.18h2.15v2.15h-2.15zM6.73 -181.38h2.15v2.15h-2.15zM6.73 -176.57h2.15v2.15h-2.15zM6.73 -171.77h2.15v2.15h-2.15zM6.73 -166.97h2.15v2.15h-2.15zM6.73 -162.17h2.15v2.15h-2.15zM6.73 -157.37h2.15v2.15h-2.15zM6.73 -152.57h2.15v2.15h-2.15zM6.73 -147.77h2.15v2.15h-2.15zM6.73 -142.97h2.15v2.15h-2.15zM6.73 -138.17h2.15v2.15h-2.15zM6.73 -133.37h2.15v2.15h-2.15zM6.73 -128.57h2.15v2.15h-2.15zM6.73 -123.77h2.15v2.15h-2.15zM6.73 -118.97h2.15v2.15h-2.15zM6.73 -114.17h2.15v2.15h-2.15zM6.73 -109.37h2.15v2.15h-2.15zM6.73 -104.57h2.15v2.15h-2.15zM6.73 -99.77h2.15v2.15h-2.15zM6.73 -94.97h2.15v2.15h-2.15zM6.73 -90.17h2.15v2.15h-2.15zM6.73 -85.37h2.15v2.15h-2.15zM6.73 -80.57h2.15v2.15h-2.15zM6.73 -75.77h2.15v2.15h-2.15zM6.73 -70.97h2.15v2.15h-2.15zM6.73 -66.17h2.15v2.15h-2.15zM6.73 -61.37h2.15v2.15h-2.15zM6.73 -56.57h2.15v2.15h-2.15zM6.73 -51.77h2.15v2.15h-2.15zM6.73 -46.97h2.15v2.15h-2.15zM6.73 -42.17h2.15v2.15h-2.15zM6.73 -37.37h2.15v2.15h-2.15zM6.73 -32.57h2.15v2.15h-2.15zM6.73 -27.77h2.15v2.15h-2.15zM6.73 -22.97h2.15v2.15h-2.15zM6.73 -18.17h2.15v2.15h-2.15zM6.73 -13.37h2.15v2.15h-2.15zM6.73 -8.57h2.15v2.15h-2.15zM6.73 -3.77h2.15v2.15h-2.15z"/><path fill="#fff" d="M4.33 -188.58h2.15v2.15h-2.15zM4.33 -183.78h2.15v2.15h-2.15zM4.33 -178.97h2.15v2.15h-2.15zM4.33 -174.17h2.15v2.15h-2.15zM4.33 -169.37h2.15v2.15h-2.15zM4.33 -164.57h2.15v2.15h-2.15zM4.33 -159.77h2.15v2.15h-2.15zM4.33 -154.97h2.15v2.15h-2.15zM4.33 -150.17h2.15v2.15h-2.15zM4.33 -145.37h2.15v2.15h-2.15zM4.33 -140.57h2.15v2.15h-2.15zM4.33 -135.77h2.15v2.15h-2.15zM4.33 -130.97h2.15v2.15h-2.15zM4.33 -126.17h2.15v2.15h-2.15zM4.33 -121.37h2.15v2.15h-2.15zM4.33 -116.57h2.15v2.15h-2.15zM4.33 -111.77h2.15v2.15h-2.15zM4.33 -106.97h2.15v2.15h-2.15zM4.33 -102.17h2.15v2.15h-2.15zM4.33 -97.37h2.15v2.15h-2.15zM4.33 -92.57h2.15v2.15h-2.15zM4.33 -87.77h2.15v2.15h-2.15zM4.33 -82.97h2.15v2.15h-2.15zM4.33 -78.17h2.15v2.15h-2.15zM4.33 -73.37h2.15v2.15h-2.15zM4.33 -68.57h2.15v2.15h-2.15zM4.33 -63.77h2.15v2.15h-2.15zM4.33 -58.97h2.15v2.15h-2.15zM4.33 -54.17h2.15v2.15h-2.15zM4.33 -49.37h2.15v2.15h-2.15zM4.33 -44.57h2.15v2.15h-2.15zM4.33 -39.77h2.15v2.15h-2.15zM4.33 -34.97h2.15v2.15h-2.15zM4.33 -30.17h2.15v2.15h-2.15zM4.33 -25.37h2.15v2.15h-2.15zM4.33 -20.57h2.15v2.15h-2.15zM4.33 -15.77h2.15v2.15h-2.15zM4.33 -10.97h2.15v2.15h-2.15zM4.33 -6.17h2.15v2.15h-2.15zM4.33 -1.37h2.15v1.37h-2.15z"/><path d="M5.4 -193V-185.5" stroke="#000" stroke-width="1.4" fill="none"/><path d="M1.65 0V-191.35H9.15V0" fill="none" stroke="#000" stroke-width="3.3"/><rect x="1.65" y="-189.9" width="7.5" height="0.8" fill="#000"/><path d="M5.4 -193V-200.5M2.7 -200.5H8.1" stroke="#000" stroke-width="1.4" fill="none"/></g>
<g transform="translate(425.05 298.1)"><rect x="1.65" y="-121.35" width="7.5" height="121.35" fill="#fff"/><rect x="1.65" y="-121.35" width="7.5" height="121.35" fill="#000"/><path fill="#fff" d="M3.85 -121.06h2.9v4.4h-2.9zM3.85 -111.6h2.9v4.4h-2.9zM3.85 -102.14h2.9v4.4h-2.9zM3.85 -92.68h2.9v4.4h-2.9zM3.85 -83.22h2.9v4.4h-2.9zM3.85 -73.76h2.9v4.4h-2.9zM3.85 -64.3h2.9v4.4h-2.9zM3.85 -54.84h2.9v4.4h-2.9zM3.85 -45.38h2.9v4.4h-2.9zM3.85 -35.92h2.9v4.4h-2.9zM3.85 -26.46h2.9v4.4h-2.9zM3.85 -17h2.9v4.4h-2.9zM3.85 -7.54h2.9v4.4h-2.9z"/><path d="M5.4 -123V-120.9" stroke="#000" stroke-width="1.4" fill="none"/><path d="M1.65 0V-121.35H9.15V0" fill="none" stroke="#000" stroke-width="3.3"/><rect x="1.65" y="-119.9" width="7.5" height="0.8" fill="#000"/><path d="M5.4 -123V-125.1M2.7 -125.1H8.1" stroke="#000" stroke-width="1.4" fill="none"/></g>
<g transform="translate(440.7 298.1)"><rect x="1.65" y="-99.55" width="7.5" height="99.55" fill="#fff"/><path fill="#000" d="M1.65 -93.3h7.5v1.6h-7.5zM1.65 -86.2h7.5v1.6h-7.5zM1.65 -79.1h7.5v1.6h-7.5zM1.65 -72h7.5v1.6h-7.5zM1.65 -64.9h7.5v1.6h-7.5zM1.65 -57.8h7.5v1.6h-7.5zM1.65 -50.7h7.5v1.6h-7.5zM1.65 -43.6h7.5v1.6h-7.5zM1.65 -36.5h7.5v1.6h-7.5zM1.65 -29.4h7.5v1.6h-7.5zM1.65 -22.3h7.5v1.6h-7.5zM1.65 -15.2h7.5v1.6h-7.5zM1.65 -8.1h7.5v1.6h-7.5zM1.65 -1h7.5v1.6h-7.5z"/><path fill="#000" d="M3.2 -99.55h0.4V0h-0.4zM7.2 -99.55h0.4V0h-0.4z"/><path d="M5.4 -101.2V-97.6" stroke="#000" stroke-width="1.4" fill="none"/><path d="M1.65 0V-99.55H9.15V0" fill="none" stroke="#000" stroke-width="3.3"/><rect x="1.65" y="-98.1" width="7.5" height="0.8" fill="#000"/><path d="M5.4 -101.2V-104.8M2.7 -104.8H8.1" stroke="#000" stroke-width="1.4" fill="none"/></g>
<text x="195.3" y="161.72" font-family='"Liberation Sans", Arial, Helvetica, sans-serif' font-size="17.2" text-anchor="middle" transform="rotate(0.03 195.3 161.72)" stroke="#000" stroke-width="0.3">*</text>
<text x="267.9" y="150.32" font-family='"Liberation Sans", Arial, Helvetica, sans-serif' font-size="17.2" text-anchor="middle" transform="rotate(0.03 267.9 150.32)" stroke="#000" stroke-width="0.3">*</text>
<text x="341.4" y="127.52" font-family='"Liberation Sans", Arial, Helvetica, sans-serif' font-size="17.2" text-anchor="middle" transform="rotate(0.03 341.4 127.52)" stroke="#000" stroke-width="0.3">*</text>
<text x="414.6" y="102.32" font-family='"Liberation Sans", Arial, Helvetica, sans-serif' font-size="17.2" text-anchor="middle" transform="rotate(0.03 414.6 102.32)" stroke="#000" stroke-width="0.3">*</text>
<text x="210.8" y="194.86" font-family='"Liberation Sans", Arial, Helvetica, sans-serif' font-size="13.3" text-anchor="middle" transform="rotate(0.03 210.8 194.86)" stroke="#000" stroke-width="0.25">@</text>
<text x="225.7" y="196.26" font-family='"Liberation Sans", Arial, Helvetica, sans-serif' font-size="13.3" text-anchor="middle" transform="rotate(0.03 225.7 196.26)" stroke="#000" stroke-width="0.25">@</text>
<text x="284.9" y="189.16" font-family='"Liberation Sans", Arial, Helvetica, sans-serif' font-size="13.3" text-anchor="middle" transform="rotate(0.03 284.9 189.16)" stroke="#000" stroke-width="0.25">@</text>
<text x="299.6" y="190.96" font-family='"Liberation Sans", Arial, Helvetica, sans-serif' font-size="13.3" text-anchor="middle" transform="rotate(0.03 299.6 190.96)" stroke="#000" stroke-width="0.25">@</text>
<text x="356.25" y="183.76" font-family='"Liberation Sans", Arial, Helvetica, sans-serif' font-size="13.3" text-anchor="middle" transform="rotate(0.03 356.25 183.76)" stroke="#000" stroke-width="0.25">@</text>
<text x="371.05" y="188.86" font-family='"Liberation Sans", Arial, Helvetica, sans-serif' font-size="13.3" text-anchor="middle" transform="rotate(0.03 371.05 188.86)" stroke="#000" stroke-width="0.25">@</text>
<text x="428.9" y="170.66" font-family='"Liberation Sans", Arial, Helvetica, sans-serif' font-size="13.3" text-anchor="middle" transform="rotate(0.03 428.9 170.66)" stroke="#000" stroke-width="0.25">@</text>
<text x="447.3" y="190.26" font-family='"Liberation Sans", Arial, Helvetica, sans-serif' font-size="13.3" text-anchor="middle" transform="rotate(0.03 447.3 190.26)" stroke="#000" stroke-width="0.25">@</text>
<g transform="translate(511.4 68.1)"><rect x="2" y="2" width="21.9" height="8.5" fill="#fff"/><g fill="#111"><circle cx="6.4" cy="7.05" r="0.7"/><circle cx="11.1" cy="7.05" r="0.7"/><circle cx="15.8" cy="7.05" r="0.7"/><circle cx="20.5" cy="7.05" r="0.7"/></g><rect x="2" y="2" width="21.9" height="8.5" fill="none" stroke="#000" stroke-width="4"/></g>
<text x="551.8" y="80.7" font-family='"Liberation Sans", Arial, Helvetica, sans-serif' font-size="18.6" textLength="132.6" lengthAdjust="spacing" transform="rotate(0.03 551.8 80.7)">Normal Control</text>
<g transform="translate(511.4 100.2)"><rect x="2" y="2" width="21.9" height="8.5" fill="#fff"/><rect x="4" y="4" width="17.9" height="4.5" fill="#000"/><path fill="#f4f4f4" d="M4.4 4.1h1.9v1.9h-1.9zM9 4.1h1.9v1.9h-1.9zM13.6 4.1h1.9v1.9h-1.9zM18.2 4.1h1.9v1.9h-1.9z"/><path fill="#909090" d="M6.7 6.4h1.9v1.9h-1.9zM11.3 6.4h1.9v1.9h-1.9zM15.9 6.4h1.9v1.9h-1.9zM20.5 6.4h1.9v1.9h-1.9z"/><rect x="2" y="2" width="21.9" height="8.5" fill="none" stroke="#000" stroke-width="4"/></g>
<text x="552" y="112.8" font-family='"Liberation Sans", Arial, Helvetica, sans-serif' font-size="18.6" textLength="40" lengthAdjust="spacing" transform="rotate(0.03 552 112.8)">ACR</text>
<g transform="translate(511.4 132.3)"><rect x="2" y="2" width="21.9" height="8.5" fill="#fff"/><rect x="4" y="4" width="17.9" height="4.5" fill="#000"/><path fill="#fff" d="M4.3 4h4v2.2h-4zM8.9 6.3h4v2.4h-4zM13.5 4h4v2.2h-4zM18.1 6.3h4v2.4h-4z"/><rect x="2" y="2" width="21.9" height="8.5" fill="none" stroke="#000" stroke-width="4"/></g>
<text x="551.6" y="144.9" font-family='"Liberation Sans", Arial, Helvetica, sans-serif' font-size="18.6" textLength="101.5" lengthAdjust="spacing" transform="rotate(0.03 551.6 144.9)">EU50+ACR</text>
<g transform="translate(511.4 164.5)"><rect x="2" y="2" width="21.9" height="8.5" fill="#fff"/><rect x="2" y="2" width="21.9" height="8.5" fill="none" stroke="#000" stroke-width="4"/></g>
<text x="551.6" y="177.1" font-family='"Liberation Sans", Arial, Helvetica, sans-serif' font-size="18.6" textLength="112.2" lengthAdjust="spacing" transform="rotate(0.03 551.6 177.1)">EU100+ACR</text>
<g stroke="#000" stroke-width="2.6" fill="none">
<path d="M92.4 381.55V613.9"/>
<path d="M82.9 612.6H439.5"/>
<path d="M82.9 566.65H92.4"/>
<path d="M82.9 520.7H92.4"/>
<path d="M82.9 474.75H92.4"/>
<path d="M82.9 428.8H92.4"/>
<path d="M82.9 382.85H92.4"/>
<path d="M132.9 612.6V622"/>
<path d="M220.5 612.6V622"/>
<path d="M308.1 612.6V622"/>
<path d="M395.7 612.6V622"/>
</g>
<text x="80.7" y="618.9" font-family='"Liberation Sans", Arial, Helvetica, sans-serif' font-size="17.5" font-weight="bold" text-anchor="end" transform="rotate(0.03 80.7 618.9)">0</text>
<text x="80.7" y="572.95" font-family='"Liberation Sans", Arial, Helvetica, sans-serif' font-size="17.5" font-weight="bold" text-anchor="end" transform="rotate(0.03 80.7 572.95)">1</text>
<text x="80.7" y="527" font-family='"Liberation Sans", Arial, Helvetica, sans-serif' font-size="17.5" font-weight="bold" text-anchor="end" transform="rotate(0.03 80.7 527)">2</text>
<text x="80.7" y="481.05" font-family='"Liberation Sans", Arial, Helvetica, sans-serif' font-size="17.5" font-weight="bold" text-anchor="end" transform="rotate(0.03 80.7 481.05)">3</text>
<text x="80.7" y="435.1" font-family='"Liberation Sans", Arial, Helvetica, sans-serif' font-size="17.5" font-weight="bold" text-anchor="end" transform="rotate(0.03 80.7 435.1)">4</text>
<text x="80.7" y="389.15" font-family='"Liberation Sans", Arial, Helvetica, sans-serif' font-size="17.5" font-weight="bold" text-anchor="end" transform="rotate(0.03 80.7 389.15)">5</text>
<text x="132.3" y="641.3" font-family='"Liberation Sans", Arial, Helvetica, sans-serif' font-size="17.3" font-weight="bold" text-anchor="middle" textLength="56" lengthAdjust="spacing" transform="rotate(0.03 132.3 641.3)">week 1</text>
<text x="219.9" y="641.3" font-family='"Liberation Sans", Arial, Helvetica, sans-serif' font-size="17.3" font-weight="bold" text-anchor="middle" textLength="56" lengthAdjust="spacing" transform="rotate(0.03 219.9 641.3)">week 2</text>
<text x="307.5" y="641.3" font-family='"Liberation Sans", Arial, Helvetica, sans-serif' font-size="17.3" font-weight="bold" text-anchor="middle" textLength="56" lengthAdjust="spacing" transform="rotate(0.03 307.5 641.3)">week 3</text>
<text x="395.1" y="641.3" font-family='"Liberation Sans", Arial, Helvetica, sans-serif' font-size="17.3" font-weight="bold" text-anchor="middle" textLength="56" lengthAdjust="spacing" transform="rotate(0.03 395.1 641.3)">week 4</text>
<g transform="translate(49.6 497.2) rotate(-90)"><text x="0" y="0" font-family='"Liberation Serif", "Times New Roman", Times, serif' font-size="21.7" font-weight="bold" text-anchor="middle" textLength="95" lengthAdjust="spacing" transform="rotate(0.03 0 0)">Gait score</text></g>
<g transform="translate(98.8 612.6)"><rect x="1.55" y="-44.25" width="9.5" height="44.25" fill="#fff"/><g fill="#111"><circle cx="6.55" cy="-39" r="0.75"/><circle cx="6.55" cy="-29.8" r="0.75"/><circle cx="6.55" cy="-20.6" r="0.75"/><circle cx="6.55" cy="-11.4" r="0.75"/><circle cx="6.55" cy="-2.2" r="0.75"/><circle cx="4.2" cy="-34.8" r="0.75"/><circle cx="4.2" cy="-25.6" r="0.75"/><circle cx="4.2" cy="-16.4" r="0.75"/><circle cx="4.2" cy="-7.2" r="0.75"/><circle cx="8.9" cy="-34.8" r="0.75"/><circle cx="8.9" cy="-25.6" r="0.75"/><circle cx="8.9" cy="-16.4" r="0.75"/><circle cx="8.9" cy="-7.2" r="0.75"/></g><path d="M1.55 0V-44.25H11.05V0" fill="none" stroke="#000" stroke-width="3.1"/></g>
<g transform="translate(117.55 612.6)"><rect x="1.55" y="-120.85" width="9.5" height="120.85" fill="#fff"/><rect x="1.55" y="-120.85" width="9.5" height="120.85" fill="#000"/><path fill="#fff" d="M4.2 -118.3h2v2h-2zM4.2 -113.63h2v2h-2zM4.2 -108.96h2v2h-2zM4.2 -104.29h2v2h-2zM4.2 -99.62h2v2h-2zM4.2 -94.95h2v2h-2zM4.2 -90.28h2v2h-2zM4.2 -85.61h2v2h-2zM4.2 -80.94h2v2h-2zM4.2 -76.27h2v2h-2zM4.2 -71.6h2v2h-2zM4.2 -66.93h2v2h-2zM4.2 -62.26h2v2h-2zM4.2 -57.59h2v2h-2zM4.2 -52.92h2v2h-2zM4.2 -48.25h2v2h-2zM4.2 -43.58h2v2h-2zM4.2 -38.91h2v2h-2zM4.2 -34.24h2v2h-2zM4.2 -29.57h2v2h-2zM4.2 -24.9h2v2h-2zM4.2 -20.23h2v2h-2zM4.2 -15.56h2v2h-2zM4.2 -10.89h2v2h-2zM4.2 -6.22h2v2h-2zM4.2 -1.55h2v1.55h-2zM6.9 -115.95h2v2h-2zM6.9 -111.28h2v2h-2zM6.9 -106.61h2v2h-2zM6.9 -101.94h2v2h-2zM6.9 -97.27h2v2h-2zM6.9 -92.6h2v2h-2zM6.9 -87.93h2v2h-2zM6.9 -83.26h2v2h-2zM6.9 -78.59h2v2h-2zM6.9 -73.92h2v2h-2zM6.9 -69.25h2v2h-2zM6.9 -64.58h2v2h-2zM6.9 -59.91h2v2h-2zM6.9 -55.24h2v2h-2zM6.9 -50.57h2v2h-2zM6.9 -45.9h2v2h-2zM6.9 -41.23h2v2h-2zM6.9 -36.56h2v2h-2zM6.9 -31.89h2v2h-2zM6.9 -27.22h2v2h-2zM6.9 -22.55h2v2h-2zM6.9 -17.88h2v2h-2zM6.9 -13.21h2v2h-2zM6.9 -8.54h2v2h-2zM6.9 -3.87h2v2h-2z"/><path fill="#999" d="M1.85 -115.95h2v2h-2zM1.85 -111.28h2v2h-2zM1.85 -106.61h2v2h-2zM1.85 -101.94h2v2h-2zM1.85 -97.27h2v2h-2zM1.85 -92.6h2v2h-2zM1.85 -87.93h2v2h-2zM1.85 -83.26h2v2h-2zM1.85 -78.59h2v2h-2zM1.85 -73.92h2v2h-2zM1.85 -69.25h2v2h-2zM1.85 -64.58h2v2h-2zM1.85 -59.91h2v2h-2zM1.85 -55.24h2v2h-2zM1.85 -50.57h2v2h-2zM1.85 -45.9h2v2h-2zM1.85 -41.23h2v2h-2zM1.85 -36.56h2v2h-2zM1.85 -31.89h2v2h-2zM1.85 -27.22h2v2h-2zM1.85 -22.55h2v2h-2zM1.85 -17.88h2v2h-2zM1.85 -13.21h2v2h-2zM1.85 -8.54h2v2h-2zM1.85 -3.87h2v2h-2zM9.25 -118.3h2v2h-2zM9.25 -113.63h2v2h-2zM9.25 -108.96h2v2h-2zM9.25 -104.29h2v2h-2zM9.25 -99.62h2v2h-2zM9.25 -94.95h2v2h-2zM9.25 -90.28h2v2h-2zM9.25 -85.61h2v2h-2zM9.25 -80.94h2v2h-2zM9.25 -76.27h2v2h-2zM9.25 -71.6h2v2h-2zM9.25 -66.93h2v2h-2zM9.25 -62.26h2v2h-2zM9.25 -57.59h2v2h-2zM9.25 -52.92h2v2h-2zM9.25 -48.25h2v2h-2zM9.25 -43.58h2v2h-2zM9.25 -38.91h2v2h-2zM9.25 -34.24h2v2h-2zM9.25 -29.57h2v2h-2zM9.25 -24.9h2v2h-2zM9.25 -20.23h2v2h-2zM9.25 -15.56h2v2h-2zM9.25 -10.89h2v2h-2zM9.25 -6.22h2v2h-2zM9.25 -1.55h2v1.55h-2z"/><path d="M6.3 -122.4V-112.7" stroke="#000" stroke-width="1.2" fill="none"/><path d="M1.55 0V-120.85H11.05V0" fill="none" stroke="#000" stroke-width="3.1"/><path d="M6.3 -122.4V-132.1M3 -132.1H9.6" stroke="#000" stroke-width="1.2" fill="none"/></g>
<g transform="translate(136.3 612.6)"><rect x="1.55" y="-74.95" width="9.5" height="74.95" fill="#fff"/><rect x="1.55" y="-74.95" width="9.5" height="74.95" fill="#000"/><path fill="#fff" d="M3.62 -74.75h2.65v4.2h-2.65zM3.62 -65.6h2.65v4.2h-2.65zM3.62 -56.45h2.65v4.2h-2.65zM3.62 -47.3h2.65v4.2h-2.65zM3.62 -38.15h2.65v4.2h-2.65zM3.62 -29h2.65v4.2h-2.65zM3.62 -19.85h2.65v4.2h-2.65zM3.62 -10.7h2.65v4.2h-2.65zM3.62 -1.55h2.65v1.55h-2.65zM6.42 -70.18h2.65v4.2h-2.65zM6.42 -61.03h2.65v4.2h-2.65zM6.42 -51.88h2.65v4.2h-2.65zM6.42 -42.73h2.65v4.2h-2.65zM6.42 -33.58h2.65v4.2h-2.65zM6.42 -24.43h2.65v4.2h-2.65zM6.42 -15.28h2.65v4.2h-2.65zM6.42 -6.13h2.65v4.2h-2.65z"/><path d="M6.3 -76.5V-67.1" stroke="#000" stroke-width="1.2" fill="none"/><path d="M1.55 0V-74.95H11.05V0" fill="none" stroke="#000" stroke-width="3.1"/><path d="M6.3 -76.5V-85.9M3 -85.9H9.6" stroke="#000" stroke-width="1.2" fill="none"/></g>
<g transform="translate(155.05 612.6)"><rect x="1.55" y="-74.95" width="9.5" height="74.95" fill="#fff"/><path fill="#000" d="M1.55 -67.97h9.5v1.35h-9.5zM1.55 -61.23h9.5v1.35h-9.5zM1.55 -54.49h9.5v1.35h-9.5zM1.55 -47.75h9.5v1.35h-9.5zM1.55 -41.01h9.5v1.35h-9.5zM1.55 -34.27h9.5v1.35h-9.5zM1.55 -27.53h9.5v1.35h-9.5zM1.55 -20.79h9.5v1.35h-9.5zM1.55 -14.05h9.5v1.35h-9.5zM1.55 -7.31h9.5v1.35h-9.5z"/><path d="M6.3 -76.5V-67.2" stroke="#000" stroke-width="1.2" fill="none"/><path d="M1.55 0V-74.95H11.05V0" fill="none" stroke="#000" stroke-width="3.1"/><path d="M6.3 -76.5V-85.8M3 -85.8H9.6" stroke="#000" stroke-width="1.2" fill="none"/></g>
<g transform="translate(186.4 612.6)"><rect x="1.55" y="-44.25" width="9.5" height="44.25" fill="#fff"/><g fill="#111"><circle cx="6.55" cy="-39" r="0.75"/><circle cx="6.55" cy="-29.8" r="0.75"/><circle cx="6.55" cy="-20.6" r="0.75"/><circle cx="6.55" cy="-11.4" r="0.75"/><circle cx="6.55" cy="-2.2" r="0.75"/><circle cx="4.2" cy="-34.8" r="0.75"/><circle cx="4.2" cy="-25.6" r="0.75"/><circle cx="4.2" cy="-16.4" r="0.75"/><circle cx="4.2" cy="-7.2" r="0.75"/><circle cx="8.9" cy="-34.8" r="0.75"/><circle cx="8.9" cy="-25.6" r="0.75"/><circle cx="8.9" cy="-16.4" r="0.75"/><circle cx="8.9" cy="-7.2" r="0.75"/></g><path d="M1.55 0V-44.25H11.05V0" fill="none" stroke="#000" stroke-width="3.1"/></g>
<g transform="translate(205.15 612.6)"><rect x="1.55" y="-143.75" width="9.5" height="143.75" fill="#fff"/><rect x="1.55" y="-143.75" width="9.5" height="143.75" fill="#000"/><path fill="#fff" d="M4.2 -141.2h2v2h-2zM4.2 -136.53h2v2h-2zM4.2 -131.86h2v2h-2zM4.2 -127.19h2v2h-2zM4.2 -122.52h2v2h-2zM4.2 -117.85h2v2h-2zM4.2 -113.18h2v2h-2zM4.2 -108.51h2v2h-2zM4.2 -103.84h2v2h-2zM4.2 -99.17h2v2h-2zM4.2 -94.5h2v2h-2zM4.2 -89.83h2v2h-2zM4.2 -85.16h2v2h-2zM4.2 -80.49h2v2h-2zM4.2 -75.82h2v2h-2zM4.2 -71.15h2v2h-2zM4.2 -66.48h2v2h-2zM4.2 -61.81h2v2h-2zM4.2 -57.14h2v2h-2zM4.2 -52.47h2v2h-2zM4.2 -47.8h2v2h-2zM4.2 -43.13h2v2h-2zM4.2 -38.46h2v2h-2zM4.2 -33.79h2v2h-2zM4.2 -29.12h2v2h-2zM4.2 -24.45h2v2h-2zM4.2 -19.78h2v2h-2zM4.2 -15.11h2v2h-2zM4.2 -10.44h2v2h-2zM4.2 -5.77h2v2h-2zM4.2 -1.1h2v1.1h-2zM6.9 -138.85h2v2h-2zM6.9 -134.18h2v2h-2zM6.9 -129.51h2v2h-2zM6.9 -124.84h2v2h-2zM6.9 -120.17h2v2h-2zM6.9 -115.5h2v2h-2zM6.9 -110.83h2v2h-2zM6.9 -106.16h2v2h-2zM6.9 -101.49h2v2h-2zM6.9 -96.82h2v2h-2zM6.9 -92.15h2v2h-2zM6.9 -87.48h2v2h-2zM6.9 -82.81h2v2h-2zM6.9 -78.14h2v2h-2zM6.9 -73.47h2v2h-2zM6.9 -68.8h2v2h-2zM6.9 -64.13h2v2h-2zM6.9 -59.46h2v2h-2zM6.9 -54.79h2v2h-2zM6.9 -50.12h2v2h-2zM6.9 -45.45h2v2h-2zM6.9 -40.78h2v2h-2zM6.9 -36.11h2v2h-2zM6.9 -31.44h2v2h-2zM6.9 -26.77h2v2h-2zM6.9 -22.1h2v2h-2zM6.9 -17.43h2v2h-2zM6.9 -12.76h2v2h-2zM6.9 -8.09h2v2h-2zM6.9 -3.42h2v2h-2z"/><path fill="#999" d="M1.85 -138.85h2v2h-2zM1.85 -134.18h2v2h-2zM1.85 -129.51h2v2h-2zM1.85 -124.84h2v2h-2zM1.85 -120.17h2v2h-2zM1.85 -115.5h2v2h-2zM1.85 -110.83h2v2h-2zM1.85 -106.16h2v2h-2zM1.85 -101.49h2v2h-2zM1.85 -96.82h2v2h-2zM1.85 -92.15h2v2h-2zM1.85 -87.48h2v2h-2zM1.85 -82.81h2v2h-2zM1.85 -78.14h2v2h-2zM1.85 -73.47h2v2h-2zM1.85 -68.8h2v2h-2zM1.85 -64.13h2v2h-2zM1.85 -59.46h2v2h-2zM1.85 -54.79h2v2h-2zM1.85 -50.12h2v2h-2zM1.85 -45.45h2v2h-2zM1.85 -40.78h2v2h-2zM1.85 -36.11h2v2h-2zM1.85 -31.44h2v2h-2zM1.85 -26.77h2v2h-2zM1.85 -22.1h2v2h-2zM1.85 -17.43h2v2h-2zM1.85 -12.76h2v2h-2zM1.85 -8.09h2v2h-2zM1.85 -3.42h2v2h-2zM9.25 -141.2h2v2h-2zM9.25 -136.53h2v2h-2zM9.25 -131.86h2v2h-2zM9.25 -127.19h2v2h-2zM9.25 -122.52h2v2h-2zM9.25 -117.85h2v2h-2zM9.25 -113.18h2v2h-2zM9.25 -108.51h2v2h-2zM9.25 -103.84h2v2h-2zM9.25 -99.17h2v2h-2zM9.25 -94.5h2v2h-2zM9.25 -89.83h2v2h-2zM9.25 -85.16h2v2h-2zM9.25 -80.49h2v2h-2zM9.25 -75.82h2v2h-2zM9.25 -71.15h2v2h-2zM9.25 -66.48h2v2h-2zM9.25 -61.81h2v2h-2zM9.25 -57.14h2v2h-2zM9.25 -52.47h2v2h-2zM9.25 -47.8h2v2h-2zM9.25 -43.13h2v2h-2zM9.25 -38.46h2v2h-2zM9.25 -33.79h2v2h-2zM9.25 -29.12h2v2h-2zM9.25 -24.45h2v2h-2zM9.25 -19.78h2v2h-2zM9.25 -15.11h2v2h-2zM9.25 -10.44h2v2h-2zM9.25 -5.77h2v2h-2zM9.25 -1.1h2v1.1h-2z"/><path d="M6.3 -145.3V-137.7" stroke="#000" stroke-width="1.2" fill="none"/><path d="M1.55 0V-143.75H11.05V0" fill="none" stroke="#000" stroke-width="3.1"/><path d="M6.3 -145.3V-152.9M3 -152.9H9.6" stroke="#000" stroke-width="1.2" fill="none"/></g>
<g transform="translate(223.9 612.6)"><rect x="1.55" y="-97.85" width="9.5" height="97.85" fill="#fff"/><rect x="1.55" y="-97.85" width="9.5" height="97.85" fill="#000"/><path fill="#fff" d="M3.62 -97.65h2.65v4.2h-2.65zM3.62 -88.5h2.65v4.2h-2.65zM3.62 -79.35h2.65v4.2h-2.65zM3.62 -70.2h2.65v4.2h-2.65zM3.62 -61.05h2.65v4.2h-2.65zM3.62 -51.9h2.65v4.2h-2.65zM3.62 -42.75h2.65v4.2h-2.65zM3.62 -33.6h2.65v4.2h-2.65zM3.62 -24.45h2.65v4.2h-2.65zM3.62 -15.3h2.65v4.2h-2.65zM3.62 -6.15h2.65v4.2h-2.65zM6.42 -93.08h2.65v4.2h-2.65zM6.42 -83.93h2.65v4.2h-2.65zM6.42 -74.78h2.65v4.2h-2.65zM6.42 -65.63h2.65v4.2h-2.65zM6.42 -56.48h2.65v4.2h-2.65zM6.42 -47.33h2.65v4.2h-2.65zM6.42 -38.18h2.65v4.2h-2.65zM6.42 -29.03h2.65v4.2h-2.65zM6.42 -19.88h2.65v4.2h-2.65zM6.42 -10.73h2.65v4.2h-2.65zM6.42 -1.58h2.65v1.58h-2.65z"/><path d="M6.3 -99.4V-91.3" stroke="#000" stroke-width="1.2" fill="none"/><path d="M1.55 0V-97.85H11.05V0" fill="none" stroke="#000" stroke-width="3.1"/><path d="M6.3 -99.4V-107.5M3 -107.5H9.6" stroke="#000" stroke-width="1.2" fill="none"/></g>
<g transform="translate(242.65 612.6)"><rect x="1.55" y="-74.95" width="9.5" height="74.95" fill="#fff"/><path fill="#000" d="M1.55 -67.97h9.5v1.35h-9.5zM1.55 -61.23h9.5v1.35h-9.5zM1.55 -54.49h9.5v1.35h-9.5zM1.55 -47.75h9.5v1.35h-9.5zM1.55 -41.01h9.5v1.35h-9.5zM1.55 -34.27h9.5v1.35h-9.5zM1.55 -27.53h9.5v1.35h-9.5zM1.55 -20.79h9.5v1.35h-9.5zM1.55 -14.05h9.5v1.35h-9.5zM1.55 -7.31h9.5v1.35h-9.5z"/><path d="M6.3 -76.5V-67.1" stroke="#000" stroke-width="1.2" fill="none"/><path d="M1.55 0V-74.95H11.05V0" fill="none" stroke="#000" stroke-width="3.1"/><path d="M6.3 -76.5V-85.9M3 -85.9H9.6" stroke="#000" stroke-width="1.2" fill="none"/></g>
<g transform="translate(274 612.6)"><rect x="1.55" y="-44.15" width="9.5" height="44.15" fill="#fff"/><g fill="#111"><circle cx="6.55" cy="-38.9" r="0.75"/><circle cx="6.55" cy="-29.7" r="0.75"/><circle cx="6.55" cy="-20.5" r="0.75"/><circle cx="6.55" cy="-11.3" r="0.75"/><circle cx="6.55" cy="-2.1" r="0.75"/><circle cx="4.2" cy="-34.7" r="0.75"/><circle cx="4.2" cy="-25.5" r="0.75"/><circle cx="4.2" cy="-16.3" r="0.75"/><circle cx="4.2" cy="-7.1" r="0.75"/><circle cx="8.9" cy="-34.7" r="0.75"/><circle cx="8.9" cy="-25.5" r="0.75"/><circle cx="8.9" cy="-16.3" r="0.75"/><circle cx="8.9" cy="-7.1" r="0.75"/></g><path d="M1.55 0V-44.15H11.05V0" fill="none" stroke="#000" stroke-width="3.1"/></g>
<g transform="translate(292.75 612.6)"><rect x="1.55" y="-174.45" width="9.5" height="174.45" fill="#fff"/><rect x="1.55" y="-174.45" width="9.5" height="174.45" fill="#000"/><path fill="#fff" d="M4.2 -171.9h2v2h-2zM4.2 -167.23h2v2h-2zM4.2 -162.56h2v2h-2zM4.2 -157.89h2v2h-2zM4.2 -153.22h2v2h-2zM4.2 -148.55h2v2h-2zM4.2 -143.88h2v2h-2zM4.2 -139.21h2v2h-2zM4.2 -134.54h2v2h-2zM4.2 -129.87h2v2h-2zM4.2 -125.2h2v2h-2zM4.2 -120.53h2v2h-2zM4.2 -115.86h2v2h-2zM4.2 -111.19h2v2h-2zM4.2 -106.52h2v2h-2zM4.2 -101.85h2v2h-2zM4.2 -97.18h2v2h-2zM4.2 -92.51h2v2h-2zM4.2 -87.84h2v2h-2zM4.2 -83.17h2v2h-2zM4.2 -78.5h2v2h-2zM4.2 -73.83h2v2h-2zM4.2 -69.16h2v2h-2zM4.2 -64.49h2v2h-2zM4.2 -59.82h2v2h-2zM4.2 -55.15h2v2h-2zM4.2 -50.48h2v2h-2zM4.2 -45.81h2v2h-2zM4.2 -41.14h2v2h-2zM4.2 -36.47h2v2h-2zM4.2 -31.8h2v2h-2zM4.2 -27.13h2v2h-2zM4.2 -22.46h2v2h-2zM4.2 -17.79h2v2h-2zM4.2 -13.12h2v2h-2zM4.2 -8.45h2v2h-2zM4.2 -3.78h2v2h-2zM6.9 -169.55h2v2h-2zM6.9 -164.88h2v2h-2zM6.9 -160.21h2v2h-2zM6.9 -155.54h2v2h-2zM6.9 -150.87h2v2h-2zM6.9 -146.2h2v2h-2zM6.9 -141.53h2v2h-2zM6.9 -136.86h2v2h-2zM6.9 -132.19h2v2h-2zM6.9 -127.52h2v2h-2zM6.9 -122.85h2v2h-2zM6.9 -118.18h2v2h-2zM6.9 -113.51h2v2h-2zM6.9 -108.84h2v2h-2zM6.9 -104.17h2v2h-2zM6.9 -99.5h2v2h-2zM6.9 -94.83h2v2h-2zM6.9 -90.16h2v2h-2zM6.9 -85.49h2v2h-2zM6.9 -80.82h2v2h-2zM6.9 -76.15h2v2h-2zM6.9 -71.48h2v2h-2zM6.9 -66.81h2v2h-2zM6.9 -62.14h2v2h-2zM6.9 -57.47h2v2h-2zM6.9 -52.8h2v2h-2zM6.9 -48.13h2v2h-2zM6.9 -43.46h2v2h-2zM6.9 -38.79h2v2h-2zM6.9 -34.12h2v2h-2zM6.9 -29.45h2v2h-2zM6.9 -24.78h2v2h-2zM6.9 -20.11h2v2h-2zM6.9 -15.44h2v2h-2zM6.9 -10.77h2v2h-2zM6.9 -6.1h2v2h-2zM6.9 -1.43h2v1.43h-2z"/><path fill="#999" d="M1.85 -169.55h2v2h-2zM1.85 -164.88h2v2h-2zM1.85 -160.21h2v2h-2zM1.85 -155.54h2v2h-2zM1.85 -150.87h2v2h-2zM1.85 -146.2h2v2h-2zM1.85 -141.53h2v2h-2zM1.85 -136.86h2v2h-2zM1.85 -132.19h2v2h-2zM1.85 -127.52h2v2h-2zM1.85 -122.85h2v2h-2zM1.85 -118.18h2v2h-2zM1.85 -113.51h2v2h-2zM1.85 -108.84h2v2h-2zM1.85 -104.17h2v2h-2zM1.85 -99.5h2v2h-2zM1.85 -94.83h2v2h-2zM1.85 -90.16h2v2h-2zM1.85 -85.49h2v2h-2zM1.85 -80.82h2v2h-2zM1.85 -76.15h2v2h-2zM1.85 -71.48h2v2h-2zM1.85 -66.81h2v2h-2zM1.85 -62.14h2v2h-2zM1.85 -57.47h2v2h-2zM1.85 -52.8h2v2h-2zM1.85 -48.13h2v2h-2zM1.85 -43.46h2v2h-2zM1.85 -38.79h2v2h-2zM1.85 -34.12h2v2h-2zM1.85 -29.45h2v2h-2zM1.85 -24.78h2v2h-2zM1.85 -20.11h2v2h-2zM1.85 -15.44h2v2h-2zM1.85 -10.77h2v2h-2zM1.85 -6.1h2v2h-2zM1.85 -1.43h2v1.43h-2zM9.25 -171.9h2v2h-2zM9.25 -167.23h2v2h-2zM9.25 -162.56h2v2h-2zM9.25 -157.89h2v2h-2zM9.25 -153.22h2v2h-2zM9.25 -148.55h2v2h-2zM9.25 -143.88h2v2h-2zM9.25 -139.21h2v2h-2zM9.25 -134.54h2v2h-2zM9.25 -129.87h2v2h-2zM9.25 -125.2h2v2h-2zM9.25 -120.53h2v2h-2zM9.25 -115.86h2v2h-2zM9.25 -111.19h2v2h-2zM9.25 -106.52h2v2h-2zM9.25 -101.85h2v2h-2zM9.25 -97.18h2v2h-2zM9.25 -92.51h2v2h-2zM9.25 -87.84h2v2h-2zM9.25 -83.17h2v2h-2zM9.25 -78.5h2v2h-2zM9.25 -73.83h2v2h-2zM9.25 -69.16h2v2h-2zM9.25 -64.49h2v2h-2zM9.25 -59.82h2v2h-2zM9.25 -55.15h2v2h-2zM9.25 -50.48h2v2h-2zM9.25 -45.81h2v2h-2zM9.25 -41.14h2v2h-2zM9.25 -36.47h2v2h-2zM9.25 -31.8h2v2h-2zM9.25 -27.13h2v2h-2zM9.25 -22.46h2v2h-2zM9.25 -17.79h2v2h-2zM9.25 -13.12h2v2h-2zM9.25 -8.45h2v2h-2zM9.25 -3.78h2v2h-2z"/><path d="M6.3 -176V-168" stroke="#000" stroke-width="1.2" fill="none"/><path d="M1.55 0V-174.45H11.05V0" fill="none" stroke="#000" stroke-width="3.1"/><path d="M6.3 -176V-184M3 -184H9.6" stroke="#000" stroke-width="1.2" fill="none"/></g>
<g transform="translate(311.5 612.6)"><rect x="1.55" y="-105.45" width="9.5" height="105.45" fill="#fff"/><rect x="1.55" y="-105.45" width="9.5" height="105.45" fill="#000"/><path fill="#fff" d="M3.62 -105.25h2.65v4.2h-2.65zM3.62 -96.1h2.65v4.2h-2.65zM3.62 -86.95h2.65v4.2h-2.65zM3.62 -77.8h2.65v4.2h-2.65zM3.62 -68.65h2.65v4.2h-2.65zM3.62 -59.5h2.65v4.2h-2.65zM3.62 -50.35h2.65v4.2h-2.65zM3.62 -41.2h2.65v4.2h-2.65zM3.62 -32.05h2.65v4.2h-2.65zM3.62 -22.9h2.65v4.2h-2.65zM3.62 -13.75h2.65v4.2h-2.65zM3.62 -4.6h2.65v4.2h-2.65zM6.42 -100.68h2.65v4.2h-2.65zM6.42 -91.53h2.65v4.2h-2.65zM6.42 -82.38h2.65v4.2h-2.65zM6.42 -73.23h2.65v4.2h-2.65zM6.42 -64.08h2.65v4.2h-2.65zM6.42 -54.93h2.65v4.2h-2.65zM6.42 -45.78h2.65v4.2h-2.65zM6.42 -36.63h2.65v4.2h-2.65zM6.42 -27.48h2.65v4.2h-2.65zM6.42 -18.33h2.65v4.2h-2.65zM6.42 -9.18h2.65v4.2h-2.65zM6.42 -0.03h2.65v0.03h-2.65z"/><path d="M6.3 -107V-97.1" stroke="#000" stroke-width="1.2" fill="none"/><path d="M1.55 0V-105.45H11.05V0" fill="none" stroke="#000" stroke-width="3.1"/><path d="M6.3 -107V-116.9M3 -116.9H9.6" stroke="#000" stroke-width="1.2" fill="none"/></g>
<g transform="translate(330.25 612.6)"><rect x="1.55" y="-90.15" width="9.5" height="90.15" fill="#fff"/><path fill="#000" d="M1.55 -83.18h9.5v1.35h-9.5zM1.55 -76.44h9.5v1.35h-9.5zM1.55 -69.7h9.5v1.35h-9.5zM1.55 -62.96h9.5v1.35h-9.5zM1.55 -56.22h9.5v1.35h-9.5zM1.55 -49.48h9.5v1.35h-9.5zM1.55 -42.74h9.5v1.35h-9.5zM1.55 -36h9.5v1.35h-9.5zM1.55 -29.26h9.5v1.35h-9.5zM1.55 -22.52h9.5v1.35h-9.5zM1.55 -15.78h9.5v1.35h-9.5zM1.55 -9.04h9.5v1.35h-9.5zM1.55 -2.3h9.5v1.35h-9.5z"/><path d="M6.3 -91.7V-79.7" stroke="#000" stroke-width="1.2" fill="none"/><path d="M1.55 0V-90.15H11.05V0" fill="none" stroke="#000" stroke-width="3.1"/><path d="M6.3 -91.7V-103.7M3 -103.7H9.6" stroke="#000" stroke-width="1.2" fill="none"/></g>
<g transform="translate(361.6 612.6)"><rect x="1.55" y="-44.15" width="9.5" height="44.15" fill="#fff"/><g fill="#111"><circle cx="6.55" cy="-38.9" r="0.75"/><circle cx="6.55" cy="-29.7" r="0.75"/><circle cx="6.55" cy="-20.5" r="0.75"/><circle cx="6.55" cy="-11.3" r="0.75"/><circle cx="6.55" cy="-2.1" r="0.75"/><circle cx="4.2" cy="-34.7" r="0.75"/><circle cx="4.2" cy="-25.5" r="0.75"/><circle cx="4.2" cy="-16.3" r="0.75"/><circle cx="4.2" cy="-7.1" r="0.75"/><circle cx="8.9" cy="-34.7" r="0.75"/><circle cx="8.9" cy="-25.5" r="0.75"/><circle cx="8.9" cy="-16.3" r="0.75"/><circle cx="8.9" cy="-7.1" r="0.75"/></g><path d="M1.55 0V-44.15H11.05V0" fill="none" stroke="#000" stroke-width="3.1"/></g>
<g transform="translate(380.35 612.6)"><rect x="1.55" y="-174.45" width="9.5" height="174.45" fill="#fff"/><rect x="1.55" y="-174.45" width="9.5" height="174.45" fill="#000"/><path fill="#fff" d="M4.2 -171.9h2v2h-2zM4.2 -167.23h2v2h-2zM4.2 -162.56h2v2h-2zM4.2 -157.89h2v2h-2zM4.2 -153.22h2v2h-2zM4.2 -148.55h2v2h-2zM4.2 -143.88h2v2h-2zM4.2 -139.21h2v2h-2zM4.2 -134.54h2v2h-2zM4.2 -129.87h2v2h-2zM4.2 -125.2h2v2h-2zM4.2 -120.53h2v2h-2zM4.2 -115.86h2v2h-2zM4.2 -111.19h2v2h-2zM4.2 -106.52h2v2h-2zM4.2 -101.85h2v2h-2zM4.2 -97.18h2v2h-2zM4.2 -92.51h2v2h-2zM4.2 -87.84h2v2h-2zM4.2 -83.17h2v2h-2zM4.2 -78.5h2v2h-2zM4.2 -73.83h2v2h-2zM4.2 -69.16h2v2h-2zM4.2 -64.49h2v2h-2zM4.2 -59.82h2v2h-2zM4.2 -55.15h2v2h-2zM4.2 -50.48h2v2h-2zM4.2 -45.81h2v2h-2zM4.2 -41.14h2v2h-2zM4.2 -36.47h2v2h-2zM4.2 -31.8h2v2h-2zM4.2 -27.13h2v2h-2zM4.2 -22.46h2v2h-2zM4.2 -17.79h2v2h-2zM4.2 -13.12h2v2h-2zM4.2 -8.45h2v2h-2zM4.2 -3.78h2v2h-2zM6.9 -169.55h2v2h-2zM6.9 -164.88h2v2h-2zM6.9 -160.21h2v2h-2zM6.9 -155.54h2v2h-2zM6.9 -150.87h2v2h-2zM6.9 -146.2h2v2h-2zM6.9 -141.53h2v2h-2zM6.9 -136.86h2v2h-2zM6.9 -132.19h2v2h-2zM6.9 -127.52h2v2h-2zM6.9 -122.85h2v2h-2zM6.9 -118.18h2v2h-2zM6.9 -113.51h2v2h-2zM6.9 -108.84h2v2h-2zM6.9 -104.17h2v2h-2zM6.9 -99.5h2v2h-2zM6.9 -94.83h2v2h-2zM6.9 -90.16h2v2h-2zM6.9 -85.49h2v2h-2zM6.9 -80.82h2v2h-2zM6.9 -76.15h2v2h-2zM6.9 -71.48h2v2h-2zM6.9 -66.81h2v2h-2zM6.9 -62.14h2v2h-2zM6.9 -57.47h2v2h-2zM6.9 -52.8h2v2h-2zM6.9 -48.13h2v2h-2zM6.9 -43.46h2v2h-2zM6.9 -38.79h2v2h-2zM6.9 -34.12h2v2h-2zM6.9 -29.45h2v2h-2zM6.9 -24.78h2v2h-2zM6.9 -20.11h2v2h-2zM6.9 -15.44h2v2h-2zM6.9 -10.77h2v2h-2zM6.9 -6.1h2v2h-2zM6.9 -1.43h2v1.43h-2z"/><path fill="#999" d="M1.85 -169.55h2v2h-2zM1.85 -164.88h2v2h-2zM1.85 -160.21h2v2h-2zM1.85 -155.54h2v2h-2zM1.85 -150.87h2v2h-2zM1.85 -146.2h2v2h-2zM1.85 -141.53h2v2h-2zM1.85 -136.86h2v2h-2zM1.85 -132.19h2v2h-2zM1.85 -127.52h2v2h-2zM1.85 -122.85h2v2h-2zM1.85 -118.18h2v2h-2zM1.85 -113.51h2v2h-2zM1.85 -108.84h2v2h-2zM1.85 -104.17h2v2h-2zM1.85 -99.5h2v2h-2zM1.85 -94.83h2v2h-2zM1.85 -90.16h2v2h-2zM1.85 -85.49h2v2h-2zM1.85 -80.82h2v2h-2zM1.85 -76.15h2v2h-2zM1.85 -71.48h2v2h-2zM1.85 -66.81h2v2h-2zM1.85 -62.14h2v2h-2zM1.85 -57.47h2v2h-2zM1.85 -52.8h2v2h-2zM1.85 -48.13h2v2h-2zM1.85 -43.46h2v2h-2zM1.85 -38.79h2v2h-2zM1.85 -34.12h2v2h-2zM1.85 -29.45h2v2h-2zM1.85 -24.78h2v2h-2zM1.85 -20.11h2v2h-2zM1.85 -15.44h2v2h-2zM1.85 -10.77h2v2h-2zM1.85 -6.1h2v2h-2zM1.85 -1.43h2v1.43h-2zM9.25 -171.9h2v2h-2zM9.25 -167.23h2v2h-2zM9.25 -162.56h2v2h-2zM9.25 -157.89h2v2h-2zM9.25 -153.22h2v2h-2zM9.25 -148.55h2v2h-2zM9.25 -143.88h2v2h-2zM9.25 -139.21h2v2h-2zM9.25 -134.54h2v2h-2zM9.25 -129.87h2v2h-2zM9.25 -125.2h2v2h-2zM9.25 -120.53h2v2h-2zM9.25 -115.86h2v2h-2zM9.25 -111.19h2v2h-2zM9.25 -106.52h2v2h-2zM9.25 -101.85h2v2h-2zM9.25 -97.18h2v2h-2zM9.25 -92.51h2v2h-2zM9.25 -87.84h2v2h-2zM9.25 -83.17h2v2h-2zM9.25 -78.5h2v2h-2zM9.25 -73.83h2v2h-2zM9.25 -69.16h2v2h-2zM9.25 -64.49h2v2h-2zM9.25 -59.82h2v2h-2zM9.25 -55.15h2v2h-2zM9.25 -50.48h2v2h-2zM9.25 -45.81h2v2h-2zM9.25 -41.14h2v2h-2zM9.25 -36.47h2v2h-2zM9.25 -31.8h2v2h-2zM9.25 -27.13h2v2h-2zM9.25 -22.46h2v2h-2zM9.25 -17.79h2v2h-2zM9.25 -13.12h2v2h-2zM9.25 -8.45h2v2h-2zM9.25 -3.78h2v2h-2z"/><path d="M6.3 -176V-168" stroke="#000" stroke-width="1.2" fill="none"/><path d="M1.55 0V-174.45H11.05V0" fill="none" stroke="#000" stroke-width="3.1"/><path d="M6.3 -176V-184M3 -184H9.6" stroke="#000" stroke-width="1.2" fill="none"/></g>
<g transform="translate(399.1 612.6)"><rect x="1.55" y="-120.85" width="9.5" height="120.85" fill="#fff"/><rect x="1.55" y="-120.85" width="9.5" height="120.85" fill="#000"/><path fill="#fff" d="M3.62 -120.65h2.65v4.2h-2.65zM3.62 -111.5h2.65v4.2h-2.65zM3.62 -102.35h2.65v4.2h-2.65zM3.62 -93.2h2.65v4.2h-2.65zM3.62 -84.05h2.65v4.2h-2.65zM3.62 -74.9h2.65v4.2h-2.65zM3.62 -65.75h2.65v4.2h-2.65zM3.62 -56.6h2.65v4.2h-2.65zM3.62 -47.45h2.65v4.2h-2.65zM3.62 -38.3h2.65v4.2h-2.65zM3.62 -29.15h2.65v4.2h-2.65zM3.62 -20h2.65v4.2h-2.65zM3.62 -10.85h2.65v4.2h-2.65zM3.62 -1.7h2.65v1.7h-2.65zM6.42 -116.08h2.65v4.2h-2.65zM6.42 -106.93h2.65v4.2h-2.65zM6.42 -97.78h2.65v4.2h-2.65zM6.42 -88.63h2.65v4.2h-2.65zM6.42 -79.48h2.65v4.2h-2.65zM6.42 -70.33h2.65v4.2h-2.65zM6.42 -61.18h2.65v4.2h-2.65zM6.42 -52.03h2.65v4.2h-2.65zM6.42 -42.88h2.65v4.2h-2.65zM6.42 -33.73h2.65v4.2h-2.65zM6.42 -24.58h2.65v4.2h-2.65zM6.42 -15.43h2.65v4.2h-2.65zM6.42 -6.28h2.65v4.2h-2.65z"/><path d="M6.3 -122.4V-112.5" stroke="#000" stroke-width="1.2" fill="none"/><path d="M1.55 0V-120.85H11.05V0" fill="none" stroke="#000" stroke-width="3.1"/><path d="M6.3 -122.4V-132.3M3 -132.3H9.6" stroke="#000" stroke-width="1.2" fill="none"/></g>
<g transform="translate(417.85 612.6)"><rect x="1.55" y="-97.75" width="9.5" height="97.75" fill="#fff"/><path fill="#000" d="M1.55 -90.78h9.5v1.35h-9.5zM1.55 -84.04h9.5v1.35h-9.5zM1.55 -77.3h9.5v1.35h-9.5zM1.55 -70.56h9.5v1.35h-9.5zM1.55 -63.82h9.5v1.35h-9.5zM1.55 -57.08h9.5v1.35h-9.5zM1.55 -50.34h9.5v1.35h-9.5zM1.55 -43.6h9.5v1.35h-9.5zM1.55 -36.86h9.5v1.35h-9.5zM1.55 -30.12h9.5v1.35h-9.5zM1.55 -23.38h9.5v1.35h-9.5zM1.55 -16.64h9.5v1.35h-9.5zM1.55 -9.9h9.5v1.35h-9.5zM1.55 -3.16h9.5v1.35h-9.5z"/><path d="M6.3 -99.3V-91" stroke="#000" stroke-width="1.2" fill="none"/><path d="M1.55 0V-97.75H11.05V0" fill="none" stroke="#000" stroke-width="3.1"/><path d="M6.3 -99.3V-107.6M3 -107.6H9.6" stroke="#000" stroke-width="1.2" fill="none"/></g>
<text x="124.1" y="482.63" font-family='"Liberation Sans", Arial, Helvetica, sans-serif' font-size="16.5" text-anchor="middle" transform="rotate(0.03 124.1 482.63)" stroke="#000" stroke-width="0.3">*</text>
<text x="211.6" y="462.93" font-family='"Liberation Sans", Arial, Helvetica, sans-serif' font-size="16.5" text-anchor="middle" transform="rotate(0.03 211.6 462.93)" stroke="#000" stroke-width="0.3">*</text>
<text x="299.9" y="431.03" font-family='"Liberation Sans", Arial, Helvetica, sans-serif' font-size="16.5" text-anchor="middle" transform="rotate(0.03 299.9 431.03)" stroke="#000" stroke-width="0.3">*</text>
<text x="387.8" y="431.33" font-family='"Liberation Sans", Arial, Helvetica, sans-serif' font-size="16.5" text-anchor="middle" transform="rotate(0.03 387.8 431.33)" stroke="#000" stroke-width="0.3">*</text>
<text x="143.35" y="521.32" font-family='"Liberation Sans", Arial, Helvetica, sans-serif' font-size="15.4" text-anchor="middle" transform="rotate(0.03 143.35 521.32)" stroke="#000" stroke-width="0.2">@</text>
<text x="161.1" y="523.12" font-family='"Liberation Sans", Arial, Helvetica, sans-serif' font-size="15.4" text-anchor="middle" transform="rotate(0.03 161.1 523.12)" stroke="#000" stroke-width="0.2">@</text>
<text x="232.7" y="500.62" font-family='"Liberation Sans", Arial, Helvetica, sans-serif' font-size="15.4" text-anchor="middle" transform="rotate(0.03 232.7 500.62)" stroke="#000" stroke-width="0.2">@</text>
<text x="250.4" y="518.22" font-family='"Liberation Sans", Arial, Helvetica, sans-serif' font-size="15.4" text-anchor="middle" transform="rotate(0.03 250.4 518.22)" stroke="#000" stroke-width="0.2">@</text>
<text x="318.8" y="491.02" font-family='"Liberation Sans", Arial, Helvetica, sans-serif' font-size="15.4" text-anchor="middle" transform="rotate(0.03 318.8 491.02)" stroke="#000" stroke-width="0.2">@</text>
<text x="337.2" y="503.92" font-family='"Liberation Sans", Arial, Helvetica, sans-serif' font-size="15.4" text-anchor="middle" transform="rotate(0.03 337.2 503.92)" stroke="#000" stroke-width="0.2">@</text>
<text x="404.2" y="473.12" font-family='"Liberation Sans", Arial, Helvetica, sans-serif' font-size="15.4" text-anchor="middle" transform="rotate(0.03 404.2 473.12)" stroke="#000" stroke-width="0.2">@</text>
<text x="426.2" y="501.97" font-family='"Liberation Sans", Arial, Helvetica, sans-serif' font-size="15.4" text-anchor="middle" transform="rotate(0.03 426.2 501.97)" stroke="#000" stroke-width="0.2">@</text>
<g transform="translate(489.1 392.1)"><rect x="1.9" y="1.9" width="21.1" height="8.6" fill="#fff"/><g fill="#111"><circle cx="6.2" cy="7" r="0.7"/><circle cx="10.9" cy="7" r="0.7"/><circle cx="15.6" cy="7" r="0.7"/><circle cx="20.3" cy="7" r="0.7"/></g><rect x="1.9" y="1.9" width="21.1" height="8.6" fill="none" stroke="#000" stroke-width="3.8"/></g>
<text x="527.6" y="404.3" font-family='"Liberation Sans", Arial, Helvetica, sans-serif' font-size="17.7" textLength="129.3" lengthAdjust="spacing" transform="rotate(0.03 527.6 404.3)">Normal Control</text>
<g transform="translate(489.1 422.9)"><rect x="1.9" y="1.9" width="21.1" height="8.6" fill="#fff"/><rect x="3.8" y="3.8" width="17.3" height="4.8" fill="#000"/><path fill="#f4f4f4" d="M4.2 3.9h1.9v1.9h-1.9zM8.8 3.9h1.9v1.9h-1.9zM13.4 3.9h1.9v1.9h-1.9zM18 3.9h1.9v1.9h-1.9z"/><path fill="#909090" d="M6.5 6.2h1.9v1.9h-1.9zM11.1 6.2h1.9v1.9h-1.9zM15.7 6.2h1.9v1.9h-1.9zM20.3 6.2h1.9v1.9h-1.9z"/><rect x="1.9" y="1.9" width="21.1" height="8.6" fill="none" stroke="#000" stroke-width="3.8"/></g>
<text x="528.5" y="435.1" font-family='"Liberation Sans", Arial, Helvetica, sans-serif' font-size="17.7" transform="rotate(0.03 528.5 435.1)">ACR</text>
<g transform="translate(489.1 453.4)"><rect x="1.9" y="1.9" width="21.1" height="8.6" fill="#fff"/><rect x="3.8" y="3.8" width="17.3" height="4.8" fill="#000"/><path fill="#fff" d="M4.1 3.8h4v2.2h-4zM8.7 6.1h4v2.4h-4zM13.3 3.8h4v2.2h-4zM17.9 6.1h4v2.4h-4z"/><rect x="1.9" y="1.9" width="21.1" height="8.6" fill="none" stroke="#000" stroke-width="3.8"/></g>
<text x="526.9" y="465.6" font-family='"Liberation Sans", Arial, Helvetica, sans-serif' font-size="17.7" textLength="98.6" lengthAdjust="spacing" transform="rotate(0.03 526.9 465.6)">EU50+ACR</text>
<g transform="translate(489.1 484.3)"><rect x="1.9" y="1.9" width="21.1" height="8.6" fill="#fff"/><rect x="3.8" y="7" width="17.3" height="0.9" fill="#222"/><rect x="1.9" y="1.9" width="21.1" height="8.6" fill="none" stroke="#000" stroke-width="3.8"/></g>
<text x="526.9" y="496.5" font-family='"Liberation Sans", Arial, Helvetica, sans-serif' font-size="17.7" textLength="108.7" lengthAdjust="spacing" transform="rotate(0.03 526.9 496.5)">EU100+ACR</text>
</svg>
</body></html>
